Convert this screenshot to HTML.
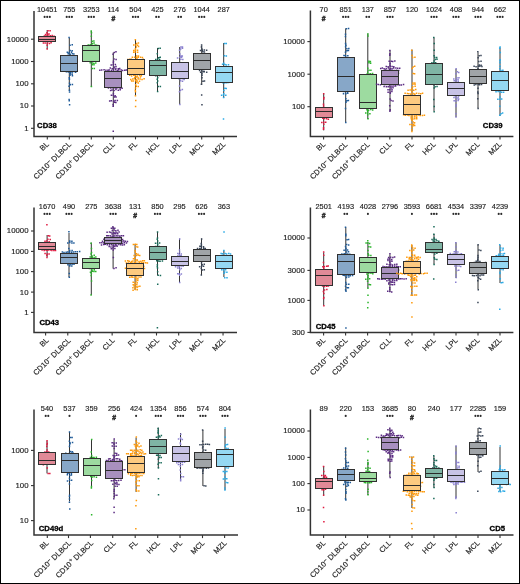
<!DOCTYPE html>
<html><head><meta charset="utf-8"><style>
html,body{margin:0;padding:0;background:#fff;}
svg{display:block;will-change:transform;}
.t{font-family:"Liberation Sans", sans-serif;font-size:7.8px;fill:#222;stroke:#222;stroke-width:0.15px;}
.x{font-family:"Liberation Sans", sans-serif;font-size:7.6px;fill:#222;stroke:#222;stroke-width:0.15px;}
.n{font-family:"Liberation Sans", sans-serif;font-size:7.4px;fill:#222;stroke:#222;stroke-width:0.15px;}
.s{font-family:"Liberation Sans", sans-serif;font-size:6px;fill:#222;letter-spacing:-0.3px;}
.h{font-family:"Liberation Sans", sans-serif;font-size:6.8px;font-weight:bold;fill:#333;}
.l{font-family:"Liberation Sans", sans-serif;font-size:7.7px;font-weight:bold;fill:#000;stroke:#000;stroke-width:0.3px;}
</style></head><body>
<svg width="520" height="584" viewBox="0 0 520 584">
<rect x="0" y="0" width="520" height="584" fill="#fff"/>
<line x1="47.2" y1="30" x2="47.2" y2="49" stroke="#333" stroke-width="1"/>
<path fill="#e01a40" d="M47.29 30.03h1.5v1.5h-1.5zM49.36 29.92h1.5v1.5h-1.5zM46.42 48.16h1.5v1.5h-1.5zM47.67 40.63h1.5v1.5h-1.5zM49.4 40.25h1.5v1.5h-1.5zM46.57 42.58h1.5v1.5h-1.5zM48.65 42.74h1.5v1.5h-1.5zM44.42 42.35h1.5v1.5h-1.5zM50.35 42.02h1.5v1.5h-1.5zM42.63 42.15h1.5v1.5h-1.5zM47.17 34.85h1.5v1.5h-1.5zM49.46 34.92h1.5v1.5h-1.5zM45.35 35.15h1.5v1.5h-1.5zM51.42 34.87h1.5v1.5h-1.5zM43.57 35.29h1.5v1.5h-1.5zM53.33 35.54h1.5v1.5h-1.5zM46.67 33.25h1.5v1.5h-1.5zM48.3 33.32h1.5v1.5h-1.5zM44.78 33.86h1.5v1.5h-1.5zM46.24 36.76h1.5v1.5h-1.5zM48.19 36.81h1.5v1.5h-1.5zM44.54 37.13h1.5v1.5h-1.5zM47.26 38.4h1.5v1.5h-1.5zM49.25 38.73h1.5v1.5h-1.5zM45.54 39.26h1.5v1.5h-1.5zM51.31 38.86h1.5v1.5h-1.5zM46.52 44.41h1.5v1.5h-1.5zM46.18 32.01h1.5v1.5h-1.5z"/>
<rect x="38.5" y="36.5" width="17" height="5" fill="#e18a97" stroke="#303030" stroke-width="1"/>
<line x1="38.5" y1="39.5" x2="55.5" y2="39.5" stroke="#2a2a2a" stroke-width="1"/>
<line x1="69.3" y1="38" x2="69.3" y2="91" stroke="#333" stroke-width="1"/>
<path fill="#1f5b99" d="M68.33 36.74h1.5v1.5h-1.5zM68.79 91.33h1.5v1.5h-1.5zM68.34 51.74h1.5v1.5h-1.5zM70.74 51.59h1.5v1.5h-1.5zM66.56 51.49h1.5v1.5h-1.5zM69.28 74.41h1.5v1.5h-1.5zM71.68 74.98h1.5v1.5h-1.5zM68.57 77.04h1.5v1.5h-1.5zM69.46 53.58h1.5v1.5h-1.5zM71.6 52.99h1.5v1.5h-1.5zM67.45 53.06h1.5v1.5h-1.5zM73.14 53.33h1.5v1.5h-1.5zM68.41 67.58h1.5v1.5h-1.5zM70.23 68.02h1.5v1.5h-1.5zM66.56 67.61h1.5v1.5h-1.5zM69.55 71.61h1.5v1.5h-1.5zM71.35 71.63h1.5v1.5h-1.5zM67.6 71.28h1.5v1.5h-1.5zM73.31 70.82h1.5v1.5h-1.5zM65.66 70.96h1.5v1.5h-1.5zM74.9 71.52h1.5v1.5h-1.5zM68.35 69.43h1.5v1.5h-1.5zM68.69 78.5h1.5v1.5h-1.5zM69.4 49.67h1.5v1.5h-1.5zM71.43 49.91h1.5v1.5h-1.5zM68.31 60.5h1.5v1.5h-1.5zM70.3 60.25h1.5v1.5h-1.5zM66.81 60.46h1.5v1.5h-1.5zM69.54 84.08h1.5v1.5h-1.5zM71.65 83.8h1.5v1.5h-1.5zM69.57 62.25h1.5v1.5h-1.5zM71.41 62.42h1.5v1.5h-1.5zM69.47 73.08h1.5v1.5h-1.5zM71.39 73.45h1.5v1.5h-1.5zM68.67 58.99h1.5v1.5h-1.5zM68.82 56.63h1.5v1.5h-1.5zM68.59 64.45h1.5v1.5h-1.5zM70.65 63.72h1.5v1.5h-1.5zM66.42 64h1.5v1.5h-1.5zM68.29 85.42h1.5v1.5h-1.5zM68.29 66h1.5v1.5h-1.5zM68.72 89.61h1.5v1.5h-1.5zM69.29 44.44h1.5v1.5h-1.5zM71.5 43.93h1.5v1.5h-1.5zM68.78 82.47h1.5v1.5h-1.5zM68.38 98.66h1.5v1.5h-1.5zM68.49 100.04h1.5v1.5h-1.5zM68.84 103.95h1.5v1.5h-1.5z"/>
<rect x="60.5" y="55.5" width="17" height="16" fill="#87a7c8" stroke="#303030" stroke-width="1"/>
<line x1="60.5" y1="63.5" x2="77.5" y2="63.5" stroke="#2a2a2a" stroke-width="1"/>
<line x1="91.3" y1="31" x2="91.3" y2="87" stroke="#333" stroke-width="1"/>
<path fill="#2bb52b" d="M90.46 30.15h1.5v1.5h-1.5zM90.67 85.77h1.5v1.5h-1.5zM91.44 40.51h1.5v1.5h-1.5zM93.13 40.32h1.5v1.5h-1.5zM91.24 58.87h1.5v1.5h-1.5zM93.25 58.35h1.5v1.5h-1.5zM91.25 44.56h1.5v1.5h-1.5zM93.62 44.4h1.5v1.5h-1.5zM89.47 44.02h1.5v1.5h-1.5zM95.18 44.21h1.5v1.5h-1.5zM87.49 44.2h1.5v1.5h-1.5zM97.06 44.67h1.5v1.5h-1.5zM91.78 62.29h1.5v1.5h-1.5zM93.25 62.67h1.5v1.5h-1.5zM89.49 62.12h1.5v1.5h-1.5zM95 62.14h1.5v1.5h-1.5zM91.48 64.05h1.5v1.5h-1.5zM93.22 64.05h1.5v1.5h-1.5zM91.2 51.24h1.5v1.5h-1.5zM93.15 51.36h1.5v1.5h-1.5zM89.33 51.02h1.5v1.5h-1.5zM95.18 51.21h1.5v1.5h-1.5zM91.55 67.68h1.5v1.5h-1.5zM93.55 67.79h1.5v1.5h-1.5zM91.63 42.79h1.5v1.5h-1.5zM93.33 42.29h1.5v1.5h-1.5zM91.79 60.13h1.5v1.5h-1.5zM93.53 60.58h1.5v1.5h-1.5zM90.28 46.35h1.5v1.5h-1.5zM90.79 53.36h1.5v1.5h-1.5zM91.64 49.93h1.5v1.5h-1.5zM93.18 49.67h1.5v1.5h-1.5zM90.55 57.15h1.5v1.5h-1.5zM90.73 31.94h1.5v1.5h-1.5zM90.6 35.6h1.5v1.5h-1.5z"/>
<rect x="82.5" y="45.5" width="17" height="16" fill="#9ddba0" stroke="#303030" stroke-width="1"/>
<line x1="82.5" y1="50.5" x2="99.5" y2="50.5" stroke="#2a2a2a" stroke-width="1"/>
<line x1="113.3" y1="52.4" x2="113.3" y2="107" stroke="#333" stroke-width="1"/>
<path fill="#5b2c83" d="M113.6 51.83h1.5v1.5h-1.5zM115.24 51.03h1.5v1.5h-1.5zM112.45 105.38h1.5v1.5h-1.5zM113.61 78.18h1.5v1.5h-1.5zM115.58 78.67h1.5v1.5h-1.5zM111.6 78.18h1.5v1.5h-1.5zM117.58 78.28h1.5v1.5h-1.5zM112.74 71.01h1.5v1.5h-1.5zM114.28 71.48h1.5v1.5h-1.5zM110.53 71.66h1.5v1.5h-1.5zM116.35 70.97h1.5v1.5h-1.5zM108.58 71.18h1.5v1.5h-1.5zM118.35 71.65h1.5v1.5h-1.5zM106.64 71.15h1.5v1.5h-1.5zM113.33 89.68h1.5v1.5h-1.5zM115.19 88.85h1.5v1.5h-1.5zM111.34 89.15h1.5v1.5h-1.5zM117.54 89.6h1.5v1.5h-1.5zM109.84 89.7h1.5v1.5h-1.5zM119.46 89.1h1.5v1.5h-1.5zM112.36 73.44h1.5v1.5h-1.5zM114.6 72.63h1.5v1.5h-1.5zM110.75 72.94h1.5v1.5h-1.5zM116.27 72.9h1.5v1.5h-1.5zM108.55 72.6h1.5v1.5h-1.5zM113.37 76.52h1.5v1.5h-1.5zM115.67 76.31h1.5v1.5h-1.5zM111.88 76.39h1.5v1.5h-1.5zM117.21 76.94h1.5v1.5h-1.5zM109.89 76.59h1.5v1.5h-1.5zM118.93 76.63h1.5v1.5h-1.5zM113.42 66.23h1.5v1.5h-1.5zM115.22 65.73h1.5v1.5h-1.5zM113.74 87.03h1.5v1.5h-1.5zM115.35 87.73h1.5v1.5h-1.5zM111.76 87.04h1.5v1.5h-1.5zM117.02 87.06h1.5v1.5h-1.5zM109.95 87.23h1.5v1.5h-1.5zM119.35 87.81h1.5v1.5h-1.5zM107.7 87.25h1.5v1.5h-1.5zM121.37 87.56h1.5v1.5h-1.5zM113.36 82.24h1.5v1.5h-1.5zM115.29 81.85h1.5v1.5h-1.5zM111.3 82.28h1.5v1.5h-1.5zM117.55 82.17h1.5v1.5h-1.5zM113.77 83.42h1.5v1.5h-1.5zM115.24 83.83h1.5v1.5h-1.5zM112.82 100.46h1.5v1.5h-1.5zM114.38 99.83h1.5v1.5h-1.5zM110.61 100.04h1.5v1.5h-1.5zM116.61 99.76h1.5v1.5h-1.5zM108.93 100.26h1.5v1.5h-1.5zM113.69 80.5h1.5v1.5h-1.5zM115.46 80.1h1.5v1.5h-1.5zM112.44 63.93h1.5v1.5h-1.5zM114.62 63.67h1.5v1.5h-1.5zM110.47 64.28h1.5v1.5h-1.5zM113.35 67.26h1.5v1.5h-1.5zM115.12 67.7h1.5v1.5h-1.5zM111.5 68.08h1.5v1.5h-1.5zM117.53 68.09h1.5v1.5h-1.5zM109.56 67.28h1.5v1.5h-1.5zM118.96 67.65h1.5v1.5h-1.5zM112.68 92.8h1.5v1.5h-1.5zM112.39 74.78h1.5v1.5h-1.5zM114.52 75.01h1.5v1.5h-1.5zM110.8 75.16h1.5v1.5h-1.5zM116.45 74.51h1.5v1.5h-1.5zM108.95 74.66h1.5v1.5h-1.5zM112.59 85.54h1.5v1.5h-1.5zM114.59 85.38h1.5v1.5h-1.5zM110.5 85.42h1.5v1.5h-1.5zM112.34 53.6h1.5v1.5h-1.5zM112.6 94.49h1.5v1.5h-1.5zM114.39 95.09h1.5v1.5h-1.5zM110.65 94.41h1.5v1.5h-1.5zM112.74 69.59h1.5v1.5h-1.5zM114.74 69.09h1.5v1.5h-1.5zM110.63 69.74h1.5v1.5h-1.5zM116.55 69.82h1.5v1.5h-1.5zM108.47 69.26h1.5v1.5h-1.5zM118.02 69.17h1.5v1.5h-1.5zM107.13 69.52h1.5v1.5h-1.5zM120.41 69.34h1.5v1.5h-1.5zM105.17 69.4h1.5v1.5h-1.5zM121.91 69.7h1.5v1.5h-1.5zM103.32 69.1h1.5v1.5h-1.5zM124.01 69.56h1.5v1.5h-1.5zM100.98 69.33h1.5v1.5h-1.5zM125.63 69.18h1.5v1.5h-1.5zM99.1 69.54h1.5v1.5h-1.5zM113.59 101.58h1.5v1.5h-1.5zM115.11 101.69h1.5v1.5h-1.5zM113.61 96.17h1.5v1.5h-1.5zM115.29 96.18h1.5v1.5h-1.5zM112.73 60.49h1.5v1.5h-1.5zM113.24 58.29h1.5v1.5h-1.5zM115.34 58.7h1.5v1.5h-1.5zM112.63 61.88h1.5v1.5h-1.5zM112.35 103.83h1.5v1.5h-1.5zM112.5 130.45h1.5v1.5h-1.5z"/>
<rect x="104.5" y="71.5" width="17" height="16" fill="#a890bf" stroke="#303030" stroke-width="1"/>
<line x1="104.5" y1="78.5" x2="121.5" y2="78.5" stroke="#2a2a2a" stroke-width="1"/>
<line x1="135.5" y1="40" x2="135.5" y2="96" stroke="#333" stroke-width="1"/>
<path fill="#ff9a0a" d="M134.61 38.9h1.5v1.5h-1.5zM134.71 94.91h1.5v1.5h-1.5zM134.76 71.04h1.5v1.5h-1.5zM136.74 71.67h1.5v1.5h-1.5zM132.68 71.59h1.5v1.5h-1.5zM138.26 71.03h1.5v1.5h-1.5zM130.79 71.47h1.5v1.5h-1.5zM140.72 71.47h1.5v1.5h-1.5zM128.95 71.59h1.5v1.5h-1.5zM134.65 51.22h1.5v1.5h-1.5zM136.89 51.57h1.5v1.5h-1.5zM132.97 51.6h1.5v1.5h-1.5zM135.04 44.22h1.5v1.5h-1.5zM136.85 44.43h1.5v1.5h-1.5zM133.06 44.19h1.5v1.5h-1.5zM135.83 56.91h1.5v1.5h-1.5zM137.48 56.59h1.5v1.5h-1.5zM133.87 56.47h1.5v1.5h-1.5zM139.75 56.53h1.5v1.5h-1.5zM131.62 56.5h1.5v1.5h-1.5zM141.66 56.71h1.5v1.5h-1.5zM135.49 76.23h1.5v1.5h-1.5zM137.32 76.82h1.5v1.5h-1.5zM133.88 76.83h1.5v1.5h-1.5zM139.64 76.26h1.5v1.5h-1.5zM134.8 87.33h1.5v1.5h-1.5zM134.94 67.94h1.5v1.5h-1.5zM136.88 67.26h1.5v1.5h-1.5zM133.07 68.02h1.5v1.5h-1.5zM138.82 67.3h1.5v1.5h-1.5zM130.77 67.3h1.5v1.5h-1.5zM140.17 67.96h1.5v1.5h-1.5zM129.24 67.77h1.5v1.5h-1.5zM142.55 67.77h1.5v1.5h-1.5zM127.02 67.29h1.5v1.5h-1.5zM135.46 78.68h1.5v1.5h-1.5zM137.42 78.29h1.5v1.5h-1.5zM133.75 78.02h1.5v1.5h-1.5zM139.35 78.25h1.5v1.5h-1.5zM132.03 78.33h1.5v1.5h-1.5zM141.29 78.87h1.5v1.5h-1.5zM130 78.77h1.5v1.5h-1.5zM143.37 78.03h1.5v1.5h-1.5zM134.7 49.59h1.5v1.5h-1.5zM136.81 49.51h1.5v1.5h-1.5zM132.97 49.68h1.5v1.5h-1.5zM135.53 60.78h1.5v1.5h-1.5zM137.35 60.74h1.5v1.5h-1.5zM133.6 60h1.5v1.5h-1.5zM139.32 60.69h1.5v1.5h-1.5zM135.04 63.6h1.5v1.5h-1.5zM134.74 73.04h1.5v1.5h-1.5zM136.83 72.77h1.5v1.5h-1.5zM132.85 72.91h1.5v1.5h-1.5zM138.75 72.83h1.5v1.5h-1.5zM131.22 72.86h1.5v1.5h-1.5zM140.28 73.23h1.5v1.5h-1.5zM129.05 72.7h1.5v1.5h-1.5zM142.43 72.67h1.5v1.5h-1.5zM127.32 73.23h1.5v1.5h-1.5zM134.92 58.77h1.5v1.5h-1.5zM136.56 58.56h1.5v1.5h-1.5zM132.79 59h1.5v1.5h-1.5zM138.3 59h1.5v1.5h-1.5zM130.67 58.39h1.5v1.5h-1.5zM140.31 59.01h1.5v1.5h-1.5zM129.05 58.54h1.5v1.5h-1.5zM142.58 58.41h1.5v1.5h-1.5zM127.13 58.68h1.5v1.5h-1.5zM135.85 42.68h1.5v1.5h-1.5zM137.69 42.31h1.5v1.5h-1.5zM134.65 69.14h1.5v1.5h-1.5zM136.86 69.6h1.5v1.5h-1.5zM133 69.15h1.5v1.5h-1.5zM138.51 69.7h1.5v1.5h-1.5zM131 69.11h1.5v1.5h-1.5zM140.43 69.8h1.5v1.5h-1.5zM128.89 69.17h1.5v1.5h-1.5zM135.58 46.23h1.5v1.5h-1.5zM137.81 45.74h1.5v1.5h-1.5zM135.49 85.42h1.5v1.5h-1.5zM137.5 85.67h1.5v1.5h-1.5zM134.55 74.7h1.5v1.5h-1.5zM136.46 75.28h1.5v1.5h-1.5zM132.99 74.49h1.5v1.5h-1.5zM138.83 74.49h1.5v1.5h-1.5zM130.88 75.29h1.5v1.5h-1.5zM140.63 75.06h1.5v1.5h-1.5zM129.01 74.58h1.5v1.5h-1.5zM134.83 79.9h1.5v1.5h-1.5zM136.47 80.15h1.5v1.5h-1.5zM132.57 80.16h1.5v1.5h-1.5zM138.72 80.42h1.5v1.5h-1.5zM130.95 80.37h1.5v1.5h-1.5zM134.73 65.53h1.5v1.5h-1.5zM136.71 65.76h1.5v1.5h-1.5zM132.99 66.22h1.5v1.5h-1.5zM138.51 65.92h1.5v1.5h-1.5zM131.1 65.78h1.5v1.5h-1.5zM134.59 89.45h1.5v1.5h-1.5zM135.93 55.3h1.5v1.5h-1.5zM137.72 55.37h1.5v1.5h-1.5zM134.86 83.98h1.5v1.5h-1.5zM134.72 90.88h1.5v1.5h-1.5zM135.78 81.69h1.5v1.5h-1.5zM137.55 82.3h1.5v1.5h-1.5zM134.88 62.37h1.5v1.5h-1.5zM136.5 62.18h1.5v1.5h-1.5zM132.82 62.36h1.5v1.5h-1.5zM134.7 48.01h1.5v1.5h-1.5zM135.01 99.76h1.5v1.5h-1.5zM134.84 105.7h1.5v1.5h-1.5z"/>
<rect x="127.5" y="59.5" width="17" height="15" fill="#fdca80" stroke="#303030" stroke-width="1"/>
<line x1="127.5" y1="68.5" x2="144.5" y2="68.5" stroke="#2a2a2a" stroke-width="1"/>
<line x1="157.5" y1="48" x2="157.5" y2="91.6" stroke="#333" stroke-width="1"/>
<path fill="#1a6b5a" d="M157.55 47.78h1.5v1.5h-1.5zM159.41 47.4h1.5v1.5h-1.5zM156.88 90.85h1.5v1.5h-1.5zM156.6 74.67h1.5v1.5h-1.5zM158.64 74.79h1.5v1.5h-1.5zM154.93 74.99h1.5v1.5h-1.5zM157.62 71.64h1.5v1.5h-1.5zM159.81 70.85h1.5v1.5h-1.5zM156.95 77.02h1.5v1.5h-1.5zM157.87 61.93h1.5v1.5h-1.5zM159.8 62.37h1.5v1.5h-1.5zM156.46 72.61h1.5v1.5h-1.5zM157.97 56.99h1.5v1.5h-1.5zM159.45 56.49h1.5v1.5h-1.5zM156.54 53.01h1.5v1.5h-1.5zM157.87 63.91h1.5v1.5h-1.5zM159.39 64.41h1.5v1.5h-1.5zM156.93 58.35h1.5v1.5h-1.5zM158.88 58.75h1.5v1.5h-1.5zM155.02 58.8h1.5v1.5h-1.5zM157.94 60.71h1.5v1.5h-1.5zM159.8 60.18h1.5v1.5h-1.5zM155.92 60.48h1.5v1.5h-1.5zM161.65 60.39h1.5v1.5h-1.5zM156.98 80.3h1.5v1.5h-1.5zM156.61 65.61h1.5v1.5h-1.5zM156.53 82.04h1.5v1.5h-1.5zM156.49 78.42h1.5v1.5h-1.5zM157.49 85.64h1.5v1.5h-1.5zM159.6 85.69h1.5v1.5h-1.5z"/>
<rect x="149.5" y="60.5" width="17" height="15" fill="#7fb5a5" stroke="#303030" stroke-width="1"/>
<line x1="149.5" y1="65.5" x2="166.5" y2="65.5" stroke="#2a2a2a" stroke-width="1"/>
<line x1="179.7" y1="47" x2="179.7" y2="104" stroke="#333" stroke-width="1"/>
<path fill="#8a80d0" d="M180.15 46.19h1.5v1.5h-1.5zM181.72 46.34h1.5v1.5h-1.5zM179.12 103.71h1.5v1.5h-1.5zM178.8 49.47h1.5v1.5h-1.5zM179.85 80.09h1.5v1.5h-1.5zM181.76 80.38h1.5v1.5h-1.5zM179.21 56.45h1.5v1.5h-1.5zM180.89 56.44h1.5v1.5h-1.5zM176.82 57.13h1.5v1.5h-1.5zM179.95 48.23h1.5v1.5h-1.5zM181.77 47.41h1.5v1.5h-1.5zM179.83 74.93h1.5v1.5h-1.5zM182.06 75.28h1.5v1.5h-1.5zM179.89 69.37h1.5v1.5h-1.5zM181.56 69.58h1.5v1.5h-1.5zM178.78 85.34h1.5v1.5h-1.5zM178.66 72.6h1.5v1.5h-1.5zM180.01 78.11h1.5v1.5h-1.5zM182.08 78.08h1.5v1.5h-1.5zM178.22 78.12h1.5v1.5h-1.5zM183.41 78.65h1.5v1.5h-1.5zM179.75 89.46h1.5v1.5h-1.5zM181.61 88.85h1.5v1.5h-1.5zM179.11 67.84h1.5v1.5h-1.5zM180.11 55.26h1.5v1.5h-1.5zM181.55 55.17h1.5v1.5h-1.5zM179.08 76.61h1.5v1.5h-1.5zM180.16 58.43h1.5v1.5h-1.5zM182.08 58.85h1.5v1.5h-1.5zM179.61 63.61h1.5v1.5h-1.5zM181.89 64.34h1.5v1.5h-1.5zM178.7 90.88h1.5v1.5h-1.5zM179.09 70.95h1.5v1.5h-1.5zM179.17 53.24h1.5v1.5h-1.5zM178.69 62.13h1.5v1.5h-1.5z"/>
<rect x="171.5" y="62.5" width="17" height="16" fill="#c8c3e6" stroke="#303030" stroke-width="1"/>
<line x1="171.5" y1="71.5" x2="188.5" y2="71.5" stroke="#2a2a2a" stroke-width="1"/>
<line x1="201.7" y1="45.6" x2="201.7" y2="85" stroke="#333" stroke-width="1"/>
<path fill="#3a4658" d="M200.86 44.27h1.5v1.5h-1.5zM200.66 83.43h1.5v1.5h-1.5zM202.19 66.18h1.5v1.5h-1.5zM203.79 65.91h1.5v1.5h-1.5zM201.76 57.1h1.5v1.5h-1.5zM203.76 57.25h1.5v1.5h-1.5zM202.06 55.34h1.5v1.5h-1.5zM204.08 54.83h1.5v1.5h-1.5zM201.62 49.38h1.5v1.5h-1.5zM203.61 49.28h1.5v1.5h-1.5zM199.73 49.7h1.5v1.5h-1.5zM205.92 49.61h1.5v1.5h-1.5zM201.22 48.22h1.5v1.5h-1.5zM200.69 67.74h1.5v1.5h-1.5zM202.79 67.31h1.5v1.5h-1.5zM199.33 67.43h1.5v1.5h-1.5zM200.99 58.78h1.5v1.5h-1.5zM202.17 80.4h1.5v1.5h-1.5zM203.74 80.2h1.5v1.5h-1.5zM200.75 64.47h1.5v1.5h-1.5zM202.2 71h1.5v1.5h-1.5zM203.52 71.03h1.5v1.5h-1.5zM199.91 71.61h1.5v1.5h-1.5zM205.94 71.55h1.5v1.5h-1.5zM200.68 46.31h1.5v1.5h-1.5zM201.08 69.58h1.5v1.5h-1.5zM203.14 69.05h1.5v1.5h-1.5zM198.84 69.68h1.5v1.5h-1.5zM202.16 60.61h1.5v1.5h-1.5zM203.68 60.53h1.5v1.5h-1.5zM202.05 51.09h1.5v1.5h-1.5zM203.69 51.23h1.5v1.5h-1.5zM200.72 62.23h1.5v1.5h-1.5zM202.65 62.01h1.5v1.5h-1.5zM198.84 62.41h1.5v1.5h-1.5zM204.46 62.45h1.5v1.5h-1.5zM196.97 61.83h1.5v1.5h-1.5zM201.21 74.6h1.5v1.5h-1.5zM201.21 76.98h1.5v1.5h-1.5zM201.18 72.73h1.5v1.5h-1.5zM200.92 94.29h1.5v1.5h-1.5zM201.21 103.96h1.5v1.5h-1.5z"/>
<rect x="193.5" y="53.5" width="17" height="16" fill="#a0a4a8" stroke="#303030" stroke-width="1"/>
<line x1="193.5" y1="60.5" x2="210.5" y2="60.5" stroke="#2a2a2a" stroke-width="1"/>
<line x1="223.7" y1="43" x2="223.7" y2="98" stroke="#333" stroke-width="1"/>
<path fill="#2aaae6" d="M223.84 42.65h1.5v1.5h-1.5zM225.53 42.73h1.5v1.5h-1.5zM222.85 96.76h1.5v1.5h-1.5zM224.12 87.44h1.5v1.5h-1.5zM225.51 87.82h1.5v1.5h-1.5zM222.94 62.58h1.5v1.5h-1.5zM222.81 94.37h1.5v1.5h-1.5zM225.05 94.53h1.5v1.5h-1.5zM220.85 94.53h1.5v1.5h-1.5zM223.01 78h1.5v1.5h-1.5zM224.86 78.4h1.5v1.5h-1.5zM221.06 78.11h1.5v1.5h-1.5zM224.03 82.33h1.5v1.5h-1.5zM226.02 81.89h1.5v1.5h-1.5zM222.13 81.94h1.5v1.5h-1.5zM227.85 81.66h1.5v1.5h-1.5zM223.17 89.66h1.5v1.5h-1.5zM222.95 80.26h1.5v1.5h-1.5zM222.97 65.88h1.5v1.5h-1.5zM222.66 71.67h1.5v1.5h-1.5zM224.68 70.96h1.5v1.5h-1.5zM220.81 71.03h1.5v1.5h-1.5zM224.09 63.63h1.5v1.5h-1.5zM225.56 64.23h1.5v1.5h-1.5zM221.82 63.62h1.5v1.5h-1.5zM227.76 64.12h1.5v1.5h-1.5zM223.91 69.63h1.5v1.5h-1.5zM225.56 69.78h1.5v1.5h-1.5zM223.08 74.44h1.5v1.5h-1.5zM223.67 73.04h1.5v1.5h-1.5zM225.8 72.85h1.5v1.5h-1.5zM223.67 54.97h1.5v1.5h-1.5zM225.58 55.13h1.5v1.5h-1.5zM223.17 67.33h1.5v1.5h-1.5zM222.99 93.07h1.5v1.5h-1.5zM222.75 118.34h1.5v1.5h-1.5z"/>
<rect x="215.5" y="66.5" width="17" height="16" fill="#95d8f2" stroke="#303030" stroke-width="1"/>
<line x1="215.5" y1="72.5" x2="232.5" y2="72.5" stroke="#2a2a2a" stroke-width="1"/>
<path d="M34 11 V136.4 H237" fill="none" stroke="#333" stroke-width="1.5"/>
<line x1="31" y1="39.2" x2="34" y2="39.2" stroke="#333" stroke-width="1.1"/>
<text x="28.5" y="41.6" text-anchor="end" class="t">10000</text>
<line x1="31" y1="61.5" x2="34" y2="61.5" stroke="#333" stroke-width="1.1"/>
<text x="28.5" y="63.9" text-anchor="end" class="t">1000</text>
<line x1="31" y1="83.8" x2="34" y2="83.8" stroke="#333" stroke-width="1.1"/>
<text x="28.5" y="86.2" text-anchor="end" class="t">100</text>
<line x1="31" y1="106" x2="34" y2="106" stroke="#333" stroke-width="1.1"/>
<text x="28.5" y="108.4" text-anchor="end" class="t">10</text>
<line x1="31" y1="128.3" x2="34" y2="128.3" stroke="#333" stroke-width="1.1"/>
<text x="28.5" y="130.7" text-anchor="end" class="t">1</text>
<line x1="47.3" y1="136.4" x2="47.3" y2="139.4" stroke="#333" stroke-width="1.1"/>
<line x1="69.3" y1="136.4" x2="69.3" y2="139.4" stroke="#333" stroke-width="1.1"/>
<line x1="91.3" y1="136.4" x2="91.3" y2="139.4" stroke="#333" stroke-width="1.1"/>
<line x1="113.3" y1="136.4" x2="113.3" y2="139.4" stroke="#333" stroke-width="1.1"/>
<line x1="135.5" y1="136.4" x2="135.5" y2="139.4" stroke="#333" stroke-width="1.1"/>
<line x1="157.5" y1="136.4" x2="157.5" y2="139.4" stroke="#333" stroke-width="1.1"/>
<line x1="179.5" y1="136.4" x2="179.5" y2="139.4" stroke="#333" stroke-width="1.1"/>
<line x1="201.7" y1="136.4" x2="201.7" y2="139.4" stroke="#333" stroke-width="1.1"/>
<line x1="223.7" y1="136.4" x2="223.7" y2="139.4" stroke="#333" stroke-width="1.1"/>
<text transform="translate(49.4,144.7) rotate(-45)" text-anchor="end" class="x">BL</text>
<text transform="translate(71.5,144.7) rotate(-45)" text-anchor="end" class="x">CD10<tspan dx="0.3" dy="-2.7" font-size="5.6">–</tspan><tspan dy="2.9"> DLBCL</tspan></text>
<text transform="translate(93.5,144.7) rotate(-45)" text-anchor="end" class="x">CD10<tspan dx="0.3" dy="-2.7" font-size="5.6">+</tspan><tspan dy="2.9"> DLBCL</tspan></text>
<text transform="translate(115.5,144.7) rotate(-45)" text-anchor="end" class="x">CLL</text>
<text transform="translate(137.7,144.7) rotate(-45)" text-anchor="end" class="x">FL</text>
<text transform="translate(159.7,144.7) rotate(-45)" text-anchor="end" class="x">HCL</text>
<text transform="translate(181.9,144.7) rotate(-45)" text-anchor="end" class="x">LPL</text>
<text transform="translate(203.9,144.7) rotate(-45)" text-anchor="end" class="x">MCL</text>
<text transform="translate(225.9,144.7) rotate(-45)" text-anchor="end" class="x">MZL</text>
<text x="47.2" y="12.2" text-anchor="middle" class="n">10451</text>
<circle cx="44.6" cy="16.9" r="1.05" fill="#2a2a2a"/>
<circle cx="47.2" cy="16.9" r="1.05" fill="#2a2a2a"/>
<circle cx="49.8" cy="16.9" r="1.05" fill="#2a2a2a"/>
<text x="69.3" y="12.2" text-anchor="middle" class="n">755</text>
<circle cx="66.7" cy="16.9" r="1.05" fill="#2a2a2a"/>
<circle cx="69.3" cy="16.9" r="1.05" fill="#2a2a2a"/>
<circle cx="71.9" cy="16.9" r="1.05" fill="#2a2a2a"/>
<text x="91.3" y="12.2" text-anchor="middle" class="n">3253</text>
<circle cx="88.7" cy="16.9" r="1.05" fill="#2a2a2a"/>
<circle cx="91.3" cy="16.9" r="1.05" fill="#2a2a2a"/>
<circle cx="93.9" cy="16.9" r="1.05" fill="#2a2a2a"/>
<text x="113.3" y="12.2" text-anchor="middle" class="n">114</text>
<text x="113.3" y="20.7" text-anchor="middle" class="h" stroke="#333" stroke-width="0.5">#</text>
<text x="135.5" y="12.2" text-anchor="middle" class="n">504</text>
<circle cx="132.9" cy="16.9" r="1.05" fill="#2a2a2a"/>
<circle cx="135.5" cy="16.9" r="1.05" fill="#2a2a2a"/>
<circle cx="138.1" cy="16.9" r="1.05" fill="#2a2a2a"/>
<text x="157.5" y="12.2" text-anchor="middle" class="n">425</text>
<circle cx="156.2" cy="16.9" r="1.05" fill="#2a2a2a"/>
<circle cx="158.8" cy="16.9" r="1.05" fill="#2a2a2a"/>
<text x="179.7" y="12.2" text-anchor="middle" class="n">276</text>
<circle cx="178.4" cy="16.9" r="1.05" fill="#2a2a2a"/>
<circle cx="181" cy="16.9" r="1.05" fill="#2a2a2a"/>
<text x="201.7" y="12.2" text-anchor="middle" class="n">1044</text>
<circle cx="199.1" cy="16.9" r="1.05" fill="#2a2a2a"/>
<circle cx="201.7" cy="16.9" r="1.05" fill="#2a2a2a"/>
<circle cx="204.3" cy="16.9" r="1.05" fill="#2a2a2a"/>
<text x="223.7" y="12.2" text-anchor="middle" class="n">287</text>
<text x="37.1" y="127.8" text-anchor="start" class="l">CD38</text>
<line x1="323.7" y1="93.6" x2="323.7" y2="130.4" stroke="#333" stroke-width="1"/>
<path fill="#e01a40" d="M322.93 92.88h1.5v1.5h-1.5zM322.74 128.51h1.5v1.5h-1.5zM322.73 103.46h1.5v1.5h-1.5zM322.89 116.06h1.5v1.5h-1.5zM324.7 115.88h1.5v1.5h-1.5zM321.08 116.56h1.5v1.5h-1.5zM323.02 98.31h1.5v1.5h-1.5zM323.04 121.38h1.5v1.5h-1.5zM324.98 121.61h1.5v1.5h-1.5zM321.08 121.75h1.5v1.5h-1.5zM322.93 110.68h1.5v1.5h-1.5zM323.75 117.8h1.5v1.5h-1.5zM325.81 117.94h1.5v1.5h-1.5zM322.05 117.61h1.5v1.5h-1.5zM327.61 118.38h1.5v1.5h-1.5zM322.79 127.1h1.5v1.5h-1.5zM322.94 112.46h1.5v1.5h-1.5zM324.19 108.87h1.5v1.5h-1.5zM325.96 108.74h1.5v1.5h-1.5zM321.74 109.38h1.5v1.5h-1.5zM327.66 108.66h1.5v1.5h-1.5zM323.83 107.2h1.5v1.5h-1.5zM325.94 106.9h1.5v1.5h-1.5zM321.84 107.66h1.5v1.5h-1.5zM327.84 106.94h1.5v1.5h-1.5zM322.85 105.32h1.5v1.5h-1.5zM323.06 123.55h1.5v1.5h-1.5zM323.16 96.74h1.5v1.5h-1.5z"/>
<rect x="315.5" y="107.5" width="17" height="10" fill="#e18a97" stroke="#303030" stroke-width="1"/>
<line x1="315.5" y1="111.5" x2="332.5" y2="111.5" stroke="#2a2a2a" stroke-width="1"/>
<line x1="345.7" y1="28.4" x2="345.7" y2="122" stroke="#333" stroke-width="1"/>
<path fill="#1f5b99" d="M345.72 28.05h1.5v1.5h-1.5zM347.83 27.84h1.5v1.5h-1.5zM345.04 121.68h1.5v1.5h-1.5zM346.2 73.12h1.5v1.5h-1.5zM347.75 72.71h1.5v1.5h-1.5zM345.69 84.08h1.5v1.5h-1.5zM347.56 83.49h1.5v1.5h-1.5zM344.75 33.47h1.5v1.5h-1.5zM345.14 92.95h1.5v1.5h-1.5zM347.03 92.46h1.5v1.5h-1.5zM342.76 93.09h1.5v1.5h-1.5zM345.79 76.84h1.5v1.5h-1.5zM347.71 76.35h1.5v1.5h-1.5zM345.76 85.29h1.5v1.5h-1.5zM348.04 85.72h1.5v1.5h-1.5zM344.86 46h1.5v1.5h-1.5zM344.88 81.65h1.5v1.5h-1.5zM346.13 47.92h1.5v1.5h-1.5zM348.08 47.8h1.5v1.5h-1.5zM345.02 65.62h1.5v1.5h-1.5zM344.68 35.64h1.5v1.5h-1.5zM345.16 69.28h1.5v1.5h-1.5zM346.14 49.93h1.5v1.5h-1.5zM347.68 49.74h1.5v1.5h-1.5zM345.23 56.85h1.5v1.5h-1.5zM345.22 101.62h1.5v1.5h-1.5zM344.88 75.05h1.5v1.5h-1.5zM344.78 54.88h1.5v1.5h-1.5zM347.08 55.04h1.5v1.5h-1.5zM343.23 54.82h1.5v1.5h-1.5zM344.75 89.12h1.5v1.5h-1.5zM344.76 107.67h1.5v1.5h-1.5zM344.82 62.31h1.5v1.5h-1.5zM344.72 91.08h1.5v1.5h-1.5zM346.78 90.96h1.5v1.5h-1.5zM342.79 90.71h1.5v1.5h-1.5zM346.1 99.92h1.5v1.5h-1.5zM347.65 99.77h1.5v1.5h-1.5zM345.77 80.01h1.5v1.5h-1.5zM347.52 80.4h1.5v1.5h-1.5zM344.85 60.14h1.5v1.5h-1.5zM345.07 97.88h1.5v1.5h-1.5zM344.81 42.75h1.5v1.5h-1.5zM344.73 51.4h1.5v1.5h-1.5zM345.15 44.52h1.5v1.5h-1.5z"/>
<rect x="337.5" y="57.5" width="17" height="34" fill="#87a7c8" stroke="#303030" stroke-width="1"/>
<line x1="337.5" y1="76.5" x2="354.5" y2="76.5" stroke="#2a2a2a" stroke-width="1"/>
<line x1="367.8" y1="33.6" x2="367.8" y2="119" stroke="#333" stroke-width="1"/>
<path fill="#2bb52b" d="M367.13 33.16h1.5v1.5h-1.5zM367.25 118.11h1.5v1.5h-1.5zM368.13 62.03h1.5v1.5h-1.5zM369.86 62.42h1.5v1.5h-1.5zM366.96 112.2h1.5v1.5h-1.5zM369.15 112.9h1.5v1.5h-1.5zM365.02 112.24h1.5v1.5h-1.5zM367.26 35.35h1.5v1.5h-1.5zM367.73 101.62h1.5v1.5h-1.5zM369.67 102.11h1.5v1.5h-1.5zM367.83 109.42h1.5v1.5h-1.5zM370.05 108.68h1.5v1.5h-1.5zM366.22 108.95h1.5v1.5h-1.5zM371.95 109.35h1.5v1.5h-1.5zM366.92 110.48h1.5v1.5h-1.5zM368.27 69.38h1.5v1.5h-1.5zM370.16 69.62h1.5v1.5h-1.5zM367.19 78.75h1.5v1.5h-1.5zM368.08 60.41h1.5v1.5h-1.5zM369.63 60.63h1.5v1.5h-1.5zM367.96 83.86h1.5v1.5h-1.5zM370.16 83.51h1.5v1.5h-1.5zM367.21 85.24h1.5v1.5h-1.5zM368.12 73.33h1.5v1.5h-1.5zM369.76 73.09h1.5v1.5h-1.5zM366.38 73.17h1.5v1.5h-1.5zM371.83 72.82h1.5v1.5h-1.5zM366.79 74.72h1.5v1.5h-1.5zM367 67.38h1.5v1.5h-1.5zM366.94 114.12h1.5v1.5h-1.5zM367.17 107.4h1.5v1.5h-1.5zM366.89 90.82h1.5v1.5h-1.5zM367.06 71.2h1.5v1.5h-1.5zM367.31 98.12h1.5v1.5h-1.5zM366.93 87.8h1.5v1.5h-1.5z"/>
<rect x="359.5" y="74.5" width="17" height="34" fill="#9ddba0" stroke="#303030" stroke-width="1"/>
<line x1="359.5" y1="102.5" x2="376.5" y2="102.5" stroke="#2a2a2a" stroke-width="1"/>
<line x1="390" y1="50.4" x2="390" y2="111" stroke="#333" stroke-width="1"/>
<path fill="#5b2c83" d="M389.12 49.82h1.5v1.5h-1.5zM389.18 110.53h1.5v1.5h-1.5zM389.48 67.68h1.5v1.5h-1.5zM391.26 67.93h1.5v1.5h-1.5zM387.62 67.21h1.5v1.5h-1.5zM392.96 67.34h1.5v1.5h-1.5zM385.45 67.99h1.5v1.5h-1.5zM395.13 67.23h1.5v1.5h-1.5zM383.36 67.94h1.5v1.5h-1.5zM396.96 67.55h1.5v1.5h-1.5zM381.64 67.34h1.5v1.5h-1.5zM398.96 67.55h1.5v1.5h-1.5zM379.97 67.75h1.5v1.5h-1.5zM389.95 72.9h1.5v1.5h-1.5zM391.93 73.4h1.5v1.5h-1.5zM388.35 72.64h1.5v1.5h-1.5zM393.8 72.92h1.5v1.5h-1.5zM386.38 73.12h1.5v1.5h-1.5zM395.83 72.92h1.5v1.5h-1.5zM384.2 73.12h1.5v1.5h-1.5zM397.7 72.62h1.5v1.5h-1.5zM390.18 77.09h1.5v1.5h-1.5zM391.83 76.33h1.5v1.5h-1.5zM388.4 76.45h1.5v1.5h-1.5zM393.86 76.65h1.5v1.5h-1.5zM390.06 69.51h1.5v1.5h-1.5zM392.12 69.86h1.5v1.5h-1.5zM388.6 69.03h1.5v1.5h-1.5zM394.04 69.69h1.5v1.5h-1.5zM386.62 69.7h1.5v1.5h-1.5zM395.98 69.57h1.5v1.5h-1.5zM384.42 69.25h1.5v1.5h-1.5zM397.98 69.79h1.5v1.5h-1.5zM390.46 60.61h1.5v1.5h-1.5zM391.98 60.69h1.5v1.5h-1.5zM388.44 60.46h1.5v1.5h-1.5zM394.08 60.32h1.5v1.5h-1.5zM390.23 80.17h1.5v1.5h-1.5zM391.84 80.1h1.5v1.5h-1.5zM388.19 80.69h1.5v1.5h-1.5zM393.99 80.13h1.5v1.5h-1.5zM386.25 80.01h1.5v1.5h-1.5zM395.81 79.92h1.5v1.5h-1.5zM388.95 84.18h1.5v1.5h-1.5zM391.12 83.8h1.5v1.5h-1.5zM387.39 83.67h1.5v1.5h-1.5zM392.85 83.46h1.5v1.5h-1.5zM385.33 83.68h1.5v1.5h-1.5zM395.09 83.9h1.5v1.5h-1.5zM383.81 83.71h1.5v1.5h-1.5zM397.1 83.93h1.5v1.5h-1.5zM381.4 83.56h1.5v1.5h-1.5zM398.8 84.29h1.5v1.5h-1.5zM379.66 84.1h1.5v1.5h-1.5zM400.61 84.18h1.5v1.5h-1.5zM377.59 83.84h1.5v1.5h-1.5zM402.79 83.65h1.5v1.5h-1.5zM375.8 83.42h1.5v1.5h-1.5zM389.05 89.04h1.5v1.5h-1.5zM391.27 89h1.5v1.5h-1.5zM387.29 88.98h1.5v1.5h-1.5zM389.31 85.98h1.5v1.5h-1.5zM391.24 85.38h1.5v1.5h-1.5zM387.49 86.07h1.5v1.5h-1.5zM393.11 85.27h1.5v1.5h-1.5zM385.64 85.99h1.5v1.5h-1.5zM394.85 85.32h1.5v1.5h-1.5zM383.36 85.68h1.5v1.5h-1.5zM389.48 74.98h1.5v1.5h-1.5zM391.4 74.59h1.5v1.5h-1.5zM387.25 75.07h1.5v1.5h-1.5zM389.34 81.96h1.5v1.5h-1.5zM391.26 81.9h1.5v1.5h-1.5zM387.08 81.97h1.5v1.5h-1.5zM392.78 82.16h1.5v1.5h-1.5zM385.35 82.04h1.5v1.5h-1.5zM389.31 71.03h1.5v1.5h-1.5zM391.13 70.81h1.5v1.5h-1.5zM387.61 71.31h1.5v1.5h-1.5zM389.54 92.45h1.5v1.5h-1.5zM389.32 62.45h1.5v1.5h-1.5zM389.15 52.88h1.5v1.5h-1.5zM389.04 78.13h1.5v1.5h-1.5zM389.41 65.48h1.5v1.5h-1.5zM391.34 65.78h1.5v1.5h-1.5zM387.37 65.93h1.5v1.5h-1.5zM393.08 65.99h1.5v1.5h-1.5zM385.51 65.7h1.5v1.5h-1.5zM390.34 99.83h1.5v1.5h-1.5zM392.23 100.29h1.5v1.5h-1.5zM389.42 108.88h1.5v1.5h-1.5zM389.41 91.48h1.5v1.5h-1.5zM391.12 90.85h1.5v1.5h-1.5zM387.36 91.45h1.5v1.5h-1.5zM389.03 54.61h1.5v1.5h-1.5zM389.24 64.19h1.5v1.5h-1.5zM389.41 98.13h1.5v1.5h-1.5zM390.49 87.21h1.5v1.5h-1.5zM392.25 87.08h1.5v1.5h-1.5zM388.97 105.12h1.5v1.5h-1.5z"/>
<rect x="381.5" y="70.5" width="17" height="14" fill="#a890bf" stroke="#303030" stroke-width="1"/>
<line x1="381.5" y1="76.5" x2="398.5" y2="76.5" stroke="#2a2a2a" stroke-width="1"/>
<line x1="412" y1="49.6" x2="412" y2="131" stroke="#333" stroke-width="1"/>
<path fill="#ff9a0a" d="M410.98 49.6h1.5v1.5h-1.5zM411.17 130.84h1.5v1.5h-1.5zM412.08 114.37h1.5v1.5h-1.5zM414.19 114.73h1.5v1.5h-1.5zM410.21 114.35h1.5v1.5h-1.5zM416.05 114.83h1.5v1.5h-1.5zM408.21 114.87h1.5v1.5h-1.5zM418.03 114.34h1.5v1.5h-1.5zM406.6 114.3h1.5v1.5h-1.5zM419.54 114.68h1.5v1.5h-1.5zM404.53 114.47h1.5v1.5h-1.5zM421.7 114.81h1.5v1.5h-1.5zM402.85 114.02h1.5v1.5h-1.5zM423.66 114.42h1.5v1.5h-1.5zM412.18 118.36h1.5v1.5h-1.5zM414.05 118.03h1.5v1.5h-1.5zM410.53 118h1.5v1.5h-1.5zM415.99 118.06h1.5v1.5h-1.5zM412.39 94.8h1.5v1.5h-1.5zM414.24 94.56h1.5v1.5h-1.5zM410.02 94.81h1.5v1.5h-1.5zM416.03 94.89h1.5v1.5h-1.5zM412.36 124.91h1.5v1.5h-1.5zM413.93 124.87h1.5v1.5h-1.5zM412.39 121.29h1.5v1.5h-1.5zM413.85 121.88h1.5v1.5h-1.5zM411.29 101.45h1.5v1.5h-1.5zM413.26 102.04h1.5v1.5h-1.5zM409.34 101.45h1.5v1.5h-1.5zM412.31 108.98h1.5v1.5h-1.5zM414.15 109.5h1.5v1.5h-1.5zM410.49 109.38h1.5v1.5h-1.5zM415.79 108.9h1.5v1.5h-1.5zM408.41 108.61h1.5v1.5h-1.5zM418.19 108.85h1.5v1.5h-1.5zM411.11 89.08h1.5v1.5h-1.5zM413 89.57h1.5v1.5h-1.5zM409.38 89.26h1.5v1.5h-1.5zM415 88.85h1.5v1.5h-1.5zM407.33 89.58h1.5v1.5h-1.5zM412.38 66.17h1.5v1.5h-1.5zM413.95 65.58h1.5v1.5h-1.5zM411.93 116.28h1.5v1.5h-1.5zM414.02 116.22h1.5v1.5h-1.5zM410.29 116.33h1.5v1.5h-1.5zM415.92 116.52h1.5v1.5h-1.5zM411.07 87.83h1.5v1.5h-1.5zM411.28 103.25h1.5v1.5h-1.5zM413.04 103.68h1.5v1.5h-1.5zM409.3 103.71h1.5v1.5h-1.5zM414.94 103.45h1.5v1.5h-1.5zM407.63 103.46h1.5v1.5h-1.5zM412.33 111.12h1.5v1.5h-1.5zM414.16 110.81h1.5v1.5h-1.5zM410.56 110.8h1.5v1.5h-1.5zM416.23 110.45h1.5v1.5h-1.5zM411.21 128.98h1.5v1.5h-1.5zM410.98 123.78h1.5v1.5h-1.5zM412.89 123.54h1.5v1.5h-1.5zM409.16 123.83h1.5v1.5h-1.5zM412.24 82.32h1.5v1.5h-1.5zM414.1 82.21h1.5v1.5h-1.5zM412.3 92.67h1.5v1.5h-1.5zM413.93 93.15h1.5v1.5h-1.5zM410.09 93.23h1.5v1.5h-1.5zM415.82 92.49h1.5v1.5h-1.5zM408.16 93.11h1.5v1.5h-1.5zM418.17 92.77h1.5v1.5h-1.5zM406.6 92.63h1.5v1.5h-1.5zM420.04 93.02h1.5v1.5h-1.5zM404.39 92.45h1.5v1.5h-1.5zM421.82 92.44h1.5v1.5h-1.5zM411.45 98.06h1.5v1.5h-1.5zM412.99 98.32h1.5v1.5h-1.5zM409.24 98.3h1.5v1.5h-1.5zM414.84 98.62h1.5v1.5h-1.5zM407.34 98.56h1.5v1.5h-1.5zM411.99 85.92h1.5v1.5h-1.5zM414.39 85.55h1.5v1.5h-1.5zM411.92 56.74h1.5v1.5h-1.5zM414.18 56.6h1.5v1.5h-1.5zM411.28 54.68h1.5v1.5h-1.5zM411.23 96.66h1.5v1.5h-1.5zM413.11 96.61h1.5v1.5h-1.5zM409.12 96.75h1.5v1.5h-1.5zM414.82 96.83h1.5v1.5h-1.5zM407.75 96.85h1.5v1.5h-1.5zM411.27 126.86h1.5v1.5h-1.5zM411.16 107.48h1.5v1.5h-1.5zM413.15 107.64h1.5v1.5h-1.5zM409.11 107.24h1.5v1.5h-1.5zM415.27 107.34h1.5v1.5h-1.5zM407.47 106.88h1.5v1.5h-1.5zM411.98 105.24h1.5v1.5h-1.5zM414.34 105.76h1.5v1.5h-1.5zM410.14 105.83h1.5v1.5h-1.5zM415.72 105.54h1.5v1.5h-1.5zM411.53 99.91h1.5v1.5h-1.5zM413.42 100.19h1.5v1.5h-1.5zM409.08 99.9h1.5v1.5h-1.5zM412.17 83.62h1.5v1.5h-1.5zM414.25 83.56h1.5v1.5h-1.5zM412.37 72.87h1.5v1.5h-1.5zM413.84 73.1h1.5v1.5h-1.5zM411.01 91.1h1.5v1.5h-1.5zM411.42 67.74h1.5v1.5h-1.5zM411.23 119.43h1.5v1.5h-1.5zM411.26 112.29h1.5v1.5h-1.5zM413.24 112.32h1.5v1.5h-1.5zM409.4 112.52h1.5v1.5h-1.5z"/>
<rect x="403.5" y="95.5" width="17" height="19" fill="#fdca80" stroke="#303030" stroke-width="1"/>
<line x1="403.5" y1="104.5" x2="420.5" y2="104.5" stroke="#2a2a2a" stroke-width="1"/>
<line x1="434" y1="37.6" x2="434" y2="111" stroke="#333" stroke-width="1"/>
<path fill="#1a6b5a" d="M433 36.82h1.5v1.5h-1.5zM433.39 111.01h1.5v1.5h-1.5zM433.04 62.11h1.5v1.5h-1.5zM434.93 61.98h1.5v1.5h-1.5zM431.18 62.1h1.5v1.5h-1.5zM433.54 78.9h1.5v1.5h-1.5zM435.32 78.43h1.5v1.5h-1.5zM431.35 78.7h1.5v1.5h-1.5zM433.49 42.68h1.5v1.5h-1.5zM433.33 60.18h1.5v1.5h-1.5zM433.33 84.16h1.5v1.5h-1.5zM433.42 70.88h1.5v1.5h-1.5zM433.38 54.91h1.5v1.5h-1.5zM434 69.87h1.5v1.5h-1.5zM436.2 69.67h1.5v1.5h-1.5zM433.03 64.35h1.5v1.5h-1.5zM433.51 105.81h1.5v1.5h-1.5zM434.35 85.95h1.5v1.5h-1.5zM436.28 85.73h1.5v1.5h-1.5zM434.16 75.14h1.5v1.5h-1.5zM436.27 75.18h1.5v1.5h-1.5zM434.08 77.06h1.5v1.5h-1.5zM436.12 77.05h1.5v1.5h-1.5zM433.02 98.67h1.5v1.5h-1.5zM433.42 87.23h1.5v1.5h-1.5zM433.45 49.41h1.5v1.5h-1.5zM434.02 56.81h1.5v1.5h-1.5zM435.94 56.84h1.5v1.5h-1.5zM434.44 58.82h1.5v1.5h-1.5zM436.23 58.55h1.5v1.5h-1.5z"/>
<rect x="425.5" y="63.5" width="17" height="21" fill="#7fb5a5" stroke="#303030" stroke-width="1"/>
<line x1="425.5" y1="74.5" x2="442.5" y2="74.5" stroke="#2a2a2a" stroke-width="1"/>
<line x1="456" y1="69" x2="456" y2="117" stroke="#333" stroke-width="1"/>
<path fill="#8a80d0" d="M455.36 68.02h1.5v1.5h-1.5zM455.25 116.13h1.5v1.5h-1.5zM455.54 87.05h1.5v1.5h-1.5zM457.35 87.62h1.5v1.5h-1.5zM453.38 87.4h1.5v1.5h-1.5zM455.4 78.8h1.5v1.5h-1.5zM457.29 78.67h1.5v1.5h-1.5zM453.07 78.29h1.5v1.5h-1.5zM455.03 100.46h1.5v1.5h-1.5zM457.38 99.73h1.5v1.5h-1.5zM453.4 100.12h1.5v1.5h-1.5zM454.98 96.35h1.5v1.5h-1.5zM457.3 96.58h1.5v1.5h-1.5zM453.22 96.69h1.5v1.5h-1.5zM455.12 73.09h1.5v1.5h-1.5zM456.15 77.08h1.5v1.5h-1.5zM458.19 76.92h1.5v1.5h-1.5zM455.36 80.14h1.5v1.5h-1.5zM457.43 80.44h1.5v1.5h-1.5zM453.46 80.05h1.5v1.5h-1.5zM455.05 82.12h1.5v1.5h-1.5zM455.45 103.91h1.5v1.5h-1.5zM456.11 94.33h1.5v1.5h-1.5zM458.11 94.99h1.5v1.5h-1.5zM454.1 94.86h1.5v1.5h-1.5zM459.8 94.48h1.5v1.5h-1.5zM454.98 92.67h1.5v1.5h-1.5zM455.18 113.07h1.5v1.5h-1.5zM456.48 70.97h1.5v1.5h-1.5zM457.99 71.65h1.5v1.5h-1.5zM455.07 83.69h1.5v1.5h-1.5zM456.16 97.9h1.5v1.5h-1.5zM457.96 98.15h1.5v1.5h-1.5zM455.18 105.87h1.5v1.5h-1.5zM455.11 85.38h1.5v1.5h-1.5z"/>
<rect x="447.5" y="82.5" width="17" height="13" fill="#c8c3e6" stroke="#303030" stroke-width="1"/>
<line x1="447.5" y1="88.5" x2="464.5" y2="88.5" stroke="#2a2a2a" stroke-width="1"/>
<line x1="478" y1="52.4" x2="478" y2="108" stroke="#333" stroke-width="1"/>
<path fill="#3a4658" d="M477.08 51.08h1.5v1.5h-1.5zM477.36 107.68h1.5v1.5h-1.5zM478.38 54.92h1.5v1.5h-1.5zM480.22 54.66h1.5v1.5h-1.5zM477.45 83.69h1.5v1.5h-1.5zM478.85 83.97h1.5v1.5h-1.5zM475.13 83.65h1.5v1.5h-1.5zM480.79 83.8h1.5v1.5h-1.5zM473.48 84.13h1.5v1.5h-1.5zM476.97 73.34h1.5v1.5h-1.5zM477.97 80h1.5v1.5h-1.5zM480.18 80.11h1.5v1.5h-1.5zM476.2 80.31h1.5v1.5h-1.5zM481.83 80.51h1.5v1.5h-1.5zM478.03 60.76h1.5v1.5h-1.5zM480.29 60.48h1.5v1.5h-1.5zM477.92 69.7h1.5v1.5h-1.5zM479.82 69.45h1.5v1.5h-1.5zM476.25 69.06h1.5v1.5h-1.5zM482.08 69.65h1.5v1.5h-1.5zM477.3 92.76h1.5v1.5h-1.5zM477.26 67.73h1.5v1.5h-1.5zM477.09 71.58h1.5v1.5h-1.5zM479.45 71.52h1.5v1.5h-1.5zM475.63 71.1h1.5v1.5h-1.5zM477.54 65.46h1.5v1.5h-1.5zM479.14 65.52h1.5v1.5h-1.5zM475.32 66.01h1.5v1.5h-1.5zM481.18 65.81h1.5v1.5h-1.5zM473.36 65.57h1.5v1.5h-1.5zM478.14 76.45h1.5v1.5h-1.5zM479.92 76.86h1.5v1.5h-1.5zM477.26 87.39h1.5v1.5h-1.5zM477.07 91.23h1.5v1.5h-1.5zM478.02 74.64h1.5v1.5h-1.5zM480.14 75.03h1.5v1.5h-1.5zM478.48 64.27h1.5v1.5h-1.5zM480.37 64.43h1.5v1.5h-1.5zM477.38 57.05h1.5v1.5h-1.5zM476.99 97.99h1.5v1.5h-1.5z"/>
<rect x="469.5" y="69.5" width="17" height="14" fill="#a0a4a8" stroke="#303030" stroke-width="1"/>
<line x1="469.5" y1="76.5" x2="486.5" y2="76.5" stroke="#2a2a2a" stroke-width="1"/>
<line x1="500" y1="47.6" x2="500" y2="116" stroke="#333" stroke-width="1"/>
<path fill="#2aaae6" d="M499.35 46.24h1.5v1.5h-1.5zM499.09 114.58h1.5v1.5h-1.5zM499.37 91.02h1.5v1.5h-1.5zM500.94 91.42h1.5v1.5h-1.5zM497.41 90.66h1.5v1.5h-1.5zM502.89 91.49h1.5v1.5h-1.5zM495.29 90.95h1.5v1.5h-1.5zM500.37 73.34h1.5v1.5h-1.5zM502.18 73.27h1.5v1.5h-1.5zM498.97 70.88h1.5v1.5h-1.5zM499.54 51.72h1.5v1.5h-1.5zM498.97 47.44h1.5v1.5h-1.5zM499.09 68.04h1.5v1.5h-1.5zM499.08 105.6h1.5v1.5h-1.5zM499.51 85.77h1.5v1.5h-1.5zM501.4 85.44h1.5v1.5h-1.5zM497.14 85.22h1.5v1.5h-1.5zM500.35 83.49h1.5v1.5h-1.5zM502.38 84.04h1.5v1.5h-1.5zM499.06 98.53h1.5v1.5h-1.5zM500.95 98.26h1.5v1.5h-1.5zM497.11 98.51h1.5v1.5h-1.5zM500.43 87.82h1.5v1.5h-1.5zM501.8 87.77h1.5v1.5h-1.5zM500.23 69.74h1.5v1.5h-1.5zM502.1 69.56h1.5v1.5h-1.5zM500.26 112.92h1.5v1.5h-1.5zM501.85 112.25h1.5v1.5h-1.5zM499.28 96.26h1.5v1.5h-1.5zM499.19 60.01h1.5v1.5h-1.5zM499.4 88.82h1.5v1.5h-1.5zM499.45 58.93h1.5v1.5h-1.5zM499.22 79.91h1.5v1.5h-1.5zM499.34 65.59h1.5v1.5h-1.5zM499.21 61.9h1.5v1.5h-1.5z"/>
<rect x="491.5" y="71.5" width="17" height="19" fill="#95d8f2" stroke="#303030" stroke-width="1"/>
<line x1="491.5" y1="80.5" x2="508.5" y2="80.5" stroke="#2a2a2a" stroke-width="1"/>
<path d="M310.4 10.5 V136.5 H513.4" fill="none" stroke="#333" stroke-width="1.5"/>
<line x1="307.4" y1="41.6" x2="310.4" y2="41.6" stroke="#333" stroke-width="1.1"/>
<text x="304.9" y="44" text-anchor="end" class="t">10000</text>
<line x1="307.4" y1="74.2" x2="310.4" y2="74.2" stroke="#333" stroke-width="1.1"/>
<text x="304.9" y="76.6" text-anchor="end" class="t">1000</text>
<line x1="307.4" y1="106.7" x2="310.4" y2="106.7" stroke="#333" stroke-width="1.1"/>
<text x="304.9" y="109.1" text-anchor="end" class="t">100</text>
<line x1="323.6" y1="136.5" x2="323.6" y2="139.5" stroke="#333" stroke-width="1.1"/>
<line x1="345.6" y1="136.5" x2="345.6" y2="139.5" stroke="#333" stroke-width="1.1"/>
<line x1="367.6" y1="136.5" x2="367.6" y2="139.5" stroke="#333" stroke-width="1.1"/>
<line x1="389.8" y1="136.5" x2="389.8" y2="139.5" stroke="#333" stroke-width="1.1"/>
<line x1="412" y1="136.5" x2="412" y2="139.5" stroke="#333" stroke-width="1.1"/>
<line x1="434" y1="136.5" x2="434" y2="139.5" stroke="#333" stroke-width="1.1"/>
<line x1="456" y1="136.5" x2="456" y2="139.5" stroke="#333" stroke-width="1.1"/>
<line x1="478" y1="136.5" x2="478" y2="139.5" stroke="#333" stroke-width="1.1"/>
<line x1="500" y1="136.5" x2="500" y2="139.5" stroke="#333" stroke-width="1.1"/>
<text transform="translate(325.9,144.8) rotate(-45)" text-anchor="end" class="x">BL</text>
<text transform="translate(347.9,144.8) rotate(-45)" text-anchor="end" class="x">CD10<tspan dx="0.3" dy="-2.7" font-size="5.6">–</tspan><tspan dy="2.9"> DLBCL</tspan></text>
<text transform="translate(370,144.8) rotate(-45)" text-anchor="end" class="x">CD10<tspan dx="0.3" dy="-2.7" font-size="5.6">+</tspan><tspan dy="2.9"> DLBCL</tspan></text>
<text transform="translate(392.2,144.8) rotate(-45)" text-anchor="end" class="x">CLL</text>
<text transform="translate(414.2,144.8) rotate(-45)" text-anchor="end" class="x">FL</text>
<text transform="translate(436.2,144.8) rotate(-45)" text-anchor="end" class="x">HCL</text>
<text transform="translate(458.2,144.8) rotate(-45)" text-anchor="end" class="x">LPL</text>
<text transform="translate(480.2,144.8) rotate(-45)" text-anchor="end" class="x">MCL</text>
<text transform="translate(502.2,144.8) rotate(-45)" text-anchor="end" class="x">MZL</text>
<text x="323.7" y="12.2" text-anchor="middle" class="n">70</text>
<text x="323.7" y="20.7" text-anchor="middle" class="h" stroke="#333" stroke-width="0.5">#</text>
<text x="345.7" y="12.2" text-anchor="middle" class="n">851</text>
<circle cx="343.1" cy="16.9" r="1.05" fill="#2a2a2a"/>
<circle cx="345.7" cy="16.9" r="1.05" fill="#2a2a2a"/>
<circle cx="348.3" cy="16.9" r="1.05" fill="#2a2a2a"/>
<text x="367.8" y="12.2" text-anchor="middle" class="n">137</text>
<circle cx="366.5" cy="16.9" r="1.05" fill="#2a2a2a"/>
<circle cx="369.1" cy="16.9" r="1.05" fill="#2a2a2a"/>
<text x="390" y="12.2" text-anchor="middle" class="n">857</text>
<circle cx="387.4" cy="16.9" r="1.05" fill="#2a2a2a"/>
<circle cx="390" cy="16.9" r="1.05" fill="#2a2a2a"/>
<circle cx="392.6" cy="16.9" r="1.05" fill="#2a2a2a"/>
<text x="412" y="12.2" text-anchor="middle" class="n">120</text>
<text x="434" y="12.2" text-anchor="middle" class="n">1024</text>
<circle cx="431.4" cy="16.9" r="1.05" fill="#2a2a2a"/>
<circle cx="434" cy="16.9" r="1.05" fill="#2a2a2a"/>
<circle cx="436.6" cy="16.9" r="1.05" fill="#2a2a2a"/>
<text x="456" y="12.2" text-anchor="middle" class="n">408</text>
<circle cx="453.4" cy="16.9" r="1.05" fill="#2a2a2a"/>
<circle cx="456" cy="16.9" r="1.05" fill="#2a2a2a"/>
<circle cx="458.6" cy="16.9" r="1.05" fill="#2a2a2a"/>
<text x="478" y="12.2" text-anchor="middle" class="n">944</text>
<circle cx="475.4" cy="16.9" r="1.05" fill="#2a2a2a"/>
<circle cx="478" cy="16.9" r="1.05" fill="#2a2a2a"/>
<circle cx="480.6" cy="16.9" r="1.05" fill="#2a2a2a"/>
<text x="500" y="12.2" text-anchor="middle" class="n">662</text>
<circle cx="497.4" cy="16.9" r="1.05" fill="#2a2a2a"/>
<circle cx="500" cy="16.9" r="1.05" fill="#2a2a2a"/>
<circle cx="502.6" cy="16.9" r="1.05" fill="#2a2a2a"/>
<text x="502.5" y="127.8" text-anchor="end" class="l">CD39</text>
<line x1="47.1" y1="235" x2="47.1" y2="257" stroke="#333" stroke-width="1"/>
<path fill="#e01a40" d="M47.48 235.08h1.5v1.5h-1.5zM48.96 235.34h1.5v1.5h-1.5zM46.24 256.76h1.5v1.5h-1.5zM47.22 249.48h1.5v1.5h-1.5zM49.48 249.15h1.5v1.5h-1.5zM45.42 249.58h1.5v1.5h-1.5zM51.12 249.84h1.5v1.5h-1.5zM43.44 249.82h1.5v1.5h-1.5zM53.11 249.87h1.5v1.5h-1.5zM41.35 249.19h1.5v1.5h-1.5zM54.77 249.82h1.5v1.5h-1.5zM46.06 240.23h1.5v1.5h-1.5zM48.38 240.89h1.5v1.5h-1.5zM44.26 240.39h1.5v1.5h-1.5zM46.46 246.02h1.5v1.5h-1.5zM48.4 246.08h1.5v1.5h-1.5zM44.3 245.63h1.5v1.5h-1.5zM46.07 242.42h1.5v1.5h-1.5zM47.13 238.43h1.5v1.5h-1.5zM49.48 238.78h1.5v1.5h-1.5zM46.4 253.19h1.5v1.5h-1.5zM48.31 253.23h1.5v1.5h-1.5zM44.33 252.66h1.5v1.5h-1.5zM46.09 254.41h1.5v1.5h-1.5zM47.22 247.33h1.5v1.5h-1.5zM48.97 247.64h1.5v1.5h-1.5zM47.58 244.22h1.5v1.5h-1.5zM49.06 244.29h1.5v1.5h-1.5zM46.16 223.89h1.5v1.5h-1.5z"/>
<rect x="38.5" y="242.5" width="17" height="7" fill="#e18a97" stroke="#303030" stroke-width="1"/>
<line x1="38.5" y1="246.5" x2="55.5" y2="246.5" stroke="#2a2a2a" stroke-width="1"/>
<line x1="69" y1="233" x2="69" y2="277" stroke="#333" stroke-width="1"/>
<path fill="#1f5b99" d="M68.17 231.11h1.5v1.5h-1.5zM68.54 276.43h1.5v1.5h-1.5zM69.01 241.81h1.5v1.5h-1.5zM71.19 242.26h1.5v1.5h-1.5zM67.01 242.22h1.5v1.5h-1.5zM73.14 242.28h1.5v1.5h-1.5zM69.04 254.85h1.5v1.5h-1.5zM71.16 254.99h1.5v1.5h-1.5zM68.99 249.72h1.5v1.5h-1.5zM71.37 249.67h1.5v1.5h-1.5zM69.41 263.73h1.5v1.5h-1.5zM71.34 263.56h1.5v1.5h-1.5zM67.14 263.94h1.5v1.5h-1.5zM73.24 263.47h1.5v1.5h-1.5zM69.03 265.23h1.5v1.5h-1.5zM71.06 265.33h1.5v1.5h-1.5zM68.06 247.87h1.5v1.5h-1.5zM69.25 262.45h1.5v1.5h-1.5zM71.04 262.21h1.5v1.5h-1.5zM67.01 262.45h1.5v1.5h-1.5zM72.84 262.03h1.5v1.5h-1.5zM65.41 262.45h1.5v1.5h-1.5zM74.9 262.49h1.5v1.5h-1.5zM69.27 256.39h1.5v1.5h-1.5zM71.3 256.38h1.5v1.5h-1.5zM69.5 258.41h1.5v1.5h-1.5zM70.94 258.87h1.5v1.5h-1.5zM67.19 258.37h1.5v1.5h-1.5zM72.91 258.6h1.5v1.5h-1.5zM68.91 251.14h1.5v1.5h-1.5zM70.9 251.55h1.5v1.5h-1.5zM67 251.35h1.5v1.5h-1.5zM72.85 251.21h1.5v1.5h-1.5zM65.44 251.44h1.5v1.5h-1.5zM74.68 251.02h1.5v1.5h-1.5zM63.27 251.66h1.5v1.5h-1.5zM76.59 250.92h1.5v1.5h-1.5zM61.61 251.32h1.5v1.5h-1.5zM78.93 250.85h1.5v1.5h-1.5zM69.04 240.15h1.5v1.5h-1.5zM71.15 240.41h1.5v1.5h-1.5zM69.15 260.6h1.5v1.5h-1.5zM71.2 260.57h1.5v1.5h-1.5zM68.52 252.84h1.5v1.5h-1.5zM68.52 272.77h1.5v1.5h-1.5z"/>
<rect x="60.5" y="253.5" width="17" height="10" fill="#87a7c8" stroke="#303030" stroke-width="1"/>
<line x1="60.5" y1="257.5" x2="77.5" y2="257.5" stroke="#2a2a2a" stroke-width="1"/>
<line x1="91.3" y1="242.6" x2="91.3" y2="295" stroke="#333" stroke-width="1"/>
<path fill="#2bb52b" d="M90.26 242.41h1.5v1.5h-1.5zM90.35 294.33h1.5v1.5h-1.5zM90.83 267.69h1.5v1.5h-1.5zM92.65 267.58h1.5v1.5h-1.5zM88.73 267.63h1.5v1.5h-1.5zM94.63 267.18h1.5v1.5h-1.5zM86.91 267.27h1.5v1.5h-1.5zM91.35 262.34h1.5v1.5h-1.5zM93.46 262.36h1.5v1.5h-1.5zM90.78 280.13h1.5v1.5h-1.5zM91.32 258.01h1.5v1.5h-1.5zM93.42 258.65h1.5v1.5h-1.5zM89.46 258.06h1.5v1.5h-1.5zM95 258.16h1.5v1.5h-1.5zM91.62 270.6h1.5v1.5h-1.5zM93.24 270.84h1.5v1.5h-1.5zM89.73 271.49h1.5v1.5h-1.5zM95.01 270.7h1.5v1.5h-1.5zM90.81 251.67h1.5v1.5h-1.5zM90.34 265.5h1.5v1.5h-1.5zM91.51 256.49h1.5v1.5h-1.5zM93.35 256.63h1.5v1.5h-1.5zM89.46 256.25h1.5v1.5h-1.5zM95.05 256.35h1.5v1.5h-1.5zM91.25 269.36h1.5v1.5h-1.5zM93.52 269.04h1.5v1.5h-1.5zM90.73 247.86h1.5v1.5h-1.5zM90.46 274.64h1.5v1.5h-1.5zM91.31 255.24h1.5v1.5h-1.5zM93.44 254.45h1.5v1.5h-1.5zM90.34 253.22h1.5v1.5h-1.5zM90.48 260.45h1.5v1.5h-1.5zM91.34 264.12h1.5v1.5h-1.5zM93.58 263.48h1.5v1.5h-1.5zM90.6 272.57h1.5v1.5h-1.5z"/>
<rect x="82.5" y="258.5" width="17" height="10" fill="#9ddba0" stroke="#303030" stroke-width="1"/>
<line x1="82.5" y1="262.5" x2="99.5" y2="262.5" stroke="#2a2a2a" stroke-width="1"/>
<line x1="113.1" y1="227" x2="113.1" y2="268.6" stroke="#333" stroke-width="1"/>
<path fill="#5b2c83" d="M112.17 225.93h1.5v1.5h-1.5zM113.22 267.86h1.5v1.5h-1.5zM115.32 267.11h1.5v1.5h-1.5zM112.6 241.83h1.5v1.5h-1.5zM114.3 242.19h1.5v1.5h-1.5zM110.58 242.19h1.5v1.5h-1.5zM115.91 242.27h1.5v1.5h-1.5zM108.74 242.51h1.5v1.5h-1.5zM117.96 242h1.5v1.5h-1.5zM106.8 242.52h1.5v1.5h-1.5zM119.78 242.59h1.5v1.5h-1.5zM105.05 242.19h1.5v1.5h-1.5zM121.78 242.44h1.5v1.5h-1.5zM103.11 241.98h1.5v1.5h-1.5zM123.63 242.1h1.5v1.5h-1.5zM101.09 241.97h1.5v1.5h-1.5zM125.68 242.25h1.5v1.5h-1.5zM99.15 241.93h1.5v1.5h-1.5zM112.62 231.9h1.5v1.5h-1.5zM114.29 231.72h1.5v1.5h-1.5zM110.26 231.82h1.5v1.5h-1.5zM116.18 231.68h1.5v1.5h-1.5zM108.77 231.33h1.5v1.5h-1.5zM118.3 231.19h1.5v1.5h-1.5zM106.36 231.45h1.5v1.5h-1.5zM112.59 244.41h1.5v1.5h-1.5zM114.52 244.06h1.5v1.5h-1.5zM110.71 244.1h1.5v1.5h-1.5zM115.94 244.17h1.5v1.5h-1.5zM108.73 243.98h1.5v1.5h-1.5zM118.11 243.83h1.5v1.5h-1.5zM106.52 243.98h1.5v1.5h-1.5zM119.96 244.02h1.5v1.5h-1.5zM104.51 243.61h1.5v1.5h-1.5zM121.75 244.25h1.5v1.5h-1.5zM103 243.81h1.5v1.5h-1.5zM123.6 244.07h1.5v1.5h-1.5zM100.76 244.14h1.5v1.5h-1.5zM112.59 238.38h1.5v1.5h-1.5zM114.3 238.85h1.5v1.5h-1.5zM110.6 238.84h1.5v1.5h-1.5zM116.28 238.45h1.5v1.5h-1.5zM108.75 239.03h1.5v1.5h-1.5zM117.78 239.05h1.5v1.5h-1.5zM106.62 238.28h1.5v1.5h-1.5zM119.69 238.92h1.5v1.5h-1.5zM104.86 238.33h1.5v1.5h-1.5zM121.83 238.77h1.5v1.5h-1.5zM103.15 238.5h1.5v1.5h-1.5zM113.46 233.02h1.5v1.5h-1.5zM115.02 232.95h1.5v1.5h-1.5zM111.35 233.36h1.5v1.5h-1.5zM116.98 232.95h1.5v1.5h-1.5zM113.13 236.48h1.5v1.5h-1.5zM115.02 236.68h1.5v1.5h-1.5zM111.4 236.57h1.5v1.5h-1.5zM117.09 236.8h1.5v1.5h-1.5zM109.78 236.84h1.5v1.5h-1.5zM119.27 236.82h1.5v1.5h-1.5zM113.12 240.53h1.5v1.5h-1.5zM114.99 240.15h1.5v1.5h-1.5zM111.14 240.63h1.5v1.5h-1.5zM117.38 240.36h1.5v1.5h-1.5zM109.41 240.38h1.5v1.5h-1.5zM118.91 240.62h1.5v1.5h-1.5zM107.54 240.14h1.5v1.5h-1.5zM121.12 240.52h1.5v1.5h-1.5zM105.4 240.76h1.5v1.5h-1.5zM122.94 240.32h1.5v1.5h-1.5zM103.88 240.83h1.5v1.5h-1.5zM124.64 240.39h1.5v1.5h-1.5zM101.78 240.5h1.5v1.5h-1.5zM126.7 240.66h1.5v1.5h-1.5zM113.57 229.33h1.5v1.5h-1.5zM115.12 229.97h1.5v1.5h-1.5zM111.57 229.73h1.5v1.5h-1.5zM117.21 229.51h1.5v1.5h-1.5zM112.62 245.89h1.5v1.5h-1.5zM114.19 245.56h1.5v1.5h-1.5zM110.22 246.21h1.5v1.5h-1.5zM116.33 245.42h1.5v1.5h-1.5zM108.44 245.83h1.5v1.5h-1.5zM113.3 234.93h1.5v1.5h-1.5zM115.44 234.91h1.5v1.5h-1.5zM111.42 235.44h1.5v1.5h-1.5zM117.18 235.03h1.5v1.5h-1.5zM109.4 234.95h1.5v1.5h-1.5zM119.07 235.31h1.5v1.5h-1.5zM107.46 234.93h1.5v1.5h-1.5zM120.83 234.93h1.5v1.5h-1.5zM105.95 235.09h1.5v1.5h-1.5zM122.67 234.9h1.5v1.5h-1.5zM112.54 249.14h1.5v1.5h-1.5zM112.46 227.42h1.5v1.5h-1.5zM114.07 227.45h1.5v1.5h-1.5zM110.63 227.53h1.5v1.5h-1.5zM112.19 247.25h1.5v1.5h-1.5zM114.11 247.86h1.5v1.5h-1.5zM110.58 248.02h1.5v1.5h-1.5zM112.62 256.7h1.5v1.5h-1.5z"/>
<rect x="104.5" y="237.5" width="17" height="6" fill="#a890bf" stroke="#303030" stroke-width="1"/>
<line x1="104.5" y1="240.5" x2="121.5" y2="240.5" stroke="#2a2a2a" stroke-width="1"/>
<line x1="135.1" y1="244" x2="135.1" y2="290" stroke="#333" stroke-width="1"/>
<path fill="#ff9a0a" d="M134.54 243.61h1.5v1.5h-1.5zM136.07 243.76h1.5v1.5h-1.5zM132.65 243.69h1.5v1.5h-1.5zM134.61 288.84h1.5v1.5h-1.5zM136.48 289.06h1.5v1.5h-1.5zM132.34 289.47h1.5v1.5h-1.5zM135.24 246.03h1.5v1.5h-1.5zM136.94 246.15h1.5v1.5h-1.5zM134.64 259.9h1.5v1.5h-1.5zM136.4 260.04h1.5v1.5h-1.5zM132.24 260.13h1.5v1.5h-1.5zM138.25 260.66h1.5v1.5h-1.5zM130.85 260.69h1.5v1.5h-1.5zM140.12 260.39h1.5v1.5h-1.5zM128.45 260.45h1.5v1.5h-1.5zM141.98 260.12h1.5v1.5h-1.5zM126.99 260.03h1.5v1.5h-1.5zM143.63 259.94h1.5v1.5h-1.5zM124.64 260.33h1.5v1.5h-1.5zM134.53 267.14h1.5v1.5h-1.5zM136.25 267.52h1.5v1.5h-1.5zM132.49 267.37h1.5v1.5h-1.5zM138.18 267.01h1.5v1.5h-1.5zM130.28 267.38h1.5v1.5h-1.5zM139.89 267.68h1.5v1.5h-1.5zM128.5 267.74h1.5v1.5h-1.5zM141.79 267.08h1.5v1.5h-1.5zM126.74 267.35h1.5v1.5h-1.5zM143.75 267.69h1.5v1.5h-1.5zM124.68 267.6h1.5v1.5h-1.5zM135.5 253.01h1.5v1.5h-1.5zM137.2 253.43h1.5v1.5h-1.5zM135.36 274.36h1.5v1.5h-1.5zM136.94 274.27h1.5v1.5h-1.5zM133.3 274.28h1.5v1.5h-1.5zM139.19 274.58h1.5v1.5h-1.5zM131.39 274.66h1.5v1.5h-1.5zM141.26 274.42h1.5v1.5h-1.5zM135.09 261.87h1.5v1.5h-1.5zM137.09 262.42h1.5v1.5h-1.5zM133.52 261.99h1.5v1.5h-1.5zM138.9 261.64h1.5v1.5h-1.5zM131.27 262.36h1.5v1.5h-1.5zM141.09 261.74h1.5v1.5h-1.5zM129.68 261.65h1.5v1.5h-1.5zM142.9 261.9h1.5v1.5h-1.5zM127.46 262.27h1.5v1.5h-1.5zM144.93 262.06h1.5v1.5h-1.5zM125.6 262.2h1.5v1.5h-1.5zM146.66 262.2h1.5v1.5h-1.5zM135.05 266.01h1.5v1.5h-1.5zM136.9 265.4h1.5v1.5h-1.5zM133.34 265.38h1.5v1.5h-1.5zM138.85 265.82h1.5v1.5h-1.5zM131.8 265.5h1.5v1.5h-1.5zM140.86 265.8h1.5v1.5h-1.5zM129.43 265.56h1.5v1.5h-1.5zM143.01 265.59h1.5v1.5h-1.5zM134.14 258.06h1.5v1.5h-1.5zM136.28 258.89h1.5v1.5h-1.5zM132.7 258.09h1.5v1.5h-1.5zM134.35 283.64h1.5v1.5h-1.5zM136.07 283.8h1.5v1.5h-1.5zM132.45 283.93h1.5v1.5h-1.5zM135.18 273.24h1.5v1.5h-1.5zM137.39 272.83h1.5v1.5h-1.5zM133.18 272.84h1.5v1.5h-1.5zM138.88 273.02h1.5v1.5h-1.5zM131.62 272.92h1.5v1.5h-1.5zM141.29 272.44h1.5v1.5h-1.5zM134.48 276.72h1.5v1.5h-1.5zM136.02 276.29h1.5v1.5h-1.5zM132.18 276.52h1.5v1.5h-1.5zM138.28 276.31h1.5v1.5h-1.5zM130.67 276.33h1.5v1.5h-1.5zM140.18 276.25h1.5v1.5h-1.5zM128.94 276.39h1.5v1.5h-1.5zM135 263.48h1.5v1.5h-1.5zM137.34 264.18h1.5v1.5h-1.5zM133.48 263.54h1.5v1.5h-1.5zM139.32 264.05h1.5v1.5h-1.5zM134.12 287.14h1.5v1.5h-1.5zM136.35 286.8h1.5v1.5h-1.5zM132.18 287.12h1.5v1.5h-1.5zM134.57 271.5h1.5v1.5h-1.5zM136.14 271.42h1.5v1.5h-1.5zM132.62 271.38h1.5v1.5h-1.5zM135.35 285.87h1.5v1.5h-1.5zM137.29 285.85h1.5v1.5h-1.5zM133.44 285.18h1.5v1.5h-1.5zM139.11 285.43h1.5v1.5h-1.5zM134.25 269.14h1.5v1.5h-1.5zM136.26 269.33h1.5v1.5h-1.5zM132.28 269.05h1.5v1.5h-1.5zM138.15 269.25h1.5v1.5h-1.5zM130.5 269.4h1.5v1.5h-1.5zM134.16 256.68h1.5v1.5h-1.5zM134.22 282.09h1.5v1.5h-1.5zM136.37 282.1h1.5v1.5h-1.5zM132.46 281.62h1.5v1.5h-1.5zM135.56 278.26h1.5v1.5h-1.5zM137.13 278.06h1.5v1.5h-1.5zM134.29 249.64h1.5v1.5h-1.5zM135.49 254.83h1.5v1.5h-1.5zM137.34 254.59h1.5v1.5h-1.5zM133.37 254.72h1.5v1.5h-1.5zM138.98 254.72h1.5v1.5h-1.5zM135.45 280.26h1.5v1.5h-1.5zM137.02 279.81h1.5v1.5h-1.5zM134.52 251.39h1.5v1.5h-1.5z"/>
<rect x="126.5" y="263.5" width="17" height="12" fill="#fdca80" stroke="#303030" stroke-width="1"/>
<line x1="126.5" y1="268.5" x2="143.5" y2="268.5" stroke="#2a2a2a" stroke-width="1"/>
<line x1="157.5" y1="232" x2="157.5" y2="275.4" stroke="#333" stroke-width="1"/>
<path fill="#1a6b5a" d="M156.79 231.29h1.5v1.5h-1.5zM157.42 274.49h1.5v1.5h-1.5zM159.69 274.74h1.5v1.5h-1.5zM156.76 245.51h1.5v1.5h-1.5zM158.48 245.68h1.5v1.5h-1.5zM154.8 245.73h1.5v1.5h-1.5zM157.94 249.1h1.5v1.5h-1.5zM159.89 249.22h1.5v1.5h-1.5zM156.96 243.82h1.5v1.5h-1.5zM157.75 260.14h1.5v1.5h-1.5zM159.32 260.52h1.5v1.5h-1.5zM155.99 260.04h1.5v1.5h-1.5zM161.67 260.23h1.5v1.5h-1.5zM157.99 258.05h1.5v1.5h-1.5zM159.53 258.21h1.5v1.5h-1.5zM156.82 242.5h1.5v1.5h-1.5zM158.86 242.29h1.5v1.5h-1.5zM154.78 242.52h1.5v1.5h-1.5zM156.51 238.43h1.5v1.5h-1.5zM156.9 271h1.5v1.5h-1.5zM158 252.68h1.5v1.5h-1.5zM159.58 252.79h1.5v1.5h-1.5zM155.5 252.68h1.5v1.5h-1.5zM161.25 252.93h1.5v1.5h-1.5zM156.71 247.66h1.5v1.5h-1.5zM156.62 264.03h1.5v1.5h-1.5zM156.76 237.28h1.5v1.5h-1.5zM156.55 265.66h1.5v1.5h-1.5zM156.75 267.33h1.5v1.5h-1.5zM156.97 240.19h1.5v1.5h-1.5zM156.98 283.52h1.5v1.5h-1.5zM156.65 326.95h1.5v1.5h-1.5z"/>
<rect x="149.5" y="246.5" width="17" height="13" fill="#7fb5a5" stroke="#303030" stroke-width="1"/>
<line x1="149.5" y1="252.5" x2="166.5" y2="252.5" stroke="#2a2a2a" stroke-width="1"/>
<line x1="179.5" y1="238.6" x2="179.5" y2="282" stroke="#333" stroke-width="1"/>
<path fill="#8a80d0" d="M178.96 238.36h1.5v1.5h-1.5zM178.95 281.87h1.5v1.5h-1.5zM178.46 273.2h1.5v1.5h-1.5zM180.61 273.15h1.5v1.5h-1.5zM176.96 272.88h1.5v1.5h-1.5zM178.97 274.38h1.5v1.5h-1.5zM178.99 269.1h1.5v1.5h-1.5zM178.47 265.5h1.5v1.5h-1.5zM180.39 265.26h1.5v1.5h-1.5zM176.92 265.31h1.5v1.5h-1.5zM182.35 265.46h1.5v1.5h-1.5zM174.82 266.03h1.5v1.5h-1.5zM178.99 258.78h1.5v1.5h-1.5zM180.94 258.4h1.5v1.5h-1.5zM177.03 258.25h1.5v1.5h-1.5zM182.81 258.73h1.5v1.5h-1.5zM175.09 258.2h1.5v1.5h-1.5zM179.45 257.03h1.5v1.5h-1.5zM181.63 256.75h1.5v1.5h-1.5zM178.02 256.33h1.5v1.5h-1.5zM183.62 256.62h1.5v1.5h-1.5zM178.92 251.21h1.5v1.5h-1.5zM178.57 253.46h1.5v1.5h-1.5zM180.52 253.27h1.5v1.5h-1.5zM177.05 252.82h1.5v1.5h-1.5zM178.87 261.96h1.5v1.5h-1.5zM179.53 260h1.5v1.5h-1.5zM181.87 260.13h1.5v1.5h-1.5zM178.76 254.85h1.5v1.5h-1.5zM180.37 255.08h1.5v1.5h-1.5zM177 255.19h1.5v1.5h-1.5zM178.66 267.19h1.5v1.5h-1.5zM180.56 267.66h1.5v1.5h-1.5zM176.94 267.37h1.5v1.5h-1.5zM178.76 249.14h1.5v1.5h-1.5z"/>
<rect x="171.5" y="256.5" width="17" height="9" fill="#c8c3e6" stroke="#303030" stroke-width="1"/>
<line x1="171.5" y1="261.5" x2="188.5" y2="261.5" stroke="#2a2a2a" stroke-width="1"/>
<line x1="201.5" y1="238.6" x2="201.5" y2="275" stroke="#333" stroke-width="1"/>
<path fill="#3a4658" d="M200.88 238.3h1.5v1.5h-1.5zM200.58 274.21h1.5v1.5h-1.5zM200.65 245.5h1.5v1.5h-1.5zM202.77 246.1h1.5v1.5h-1.5zM199.15 245.59h1.5v1.5h-1.5zM200.47 258.68h1.5v1.5h-1.5zM202.6 258.84h1.5v1.5h-1.5zM198.79 258.28h1.5v1.5h-1.5zM204.29 258.85h1.5v1.5h-1.5zM196.96 258.4h1.5v1.5h-1.5zM201.66 253.29h1.5v1.5h-1.5zM203.8 253.03h1.5v1.5h-1.5zM200.56 247.57h1.5v1.5h-1.5zM202.88 247.57h1.5v1.5h-1.5zM198.95 247.7h1.5v1.5h-1.5zM204.53 247.72h1.5v1.5h-1.5zM196.8 247.7h1.5v1.5h-1.5zM200.97 256.27h1.5v1.5h-1.5zM202.57 256.99h1.5v1.5h-1.5zM199.14 256.21h1.5v1.5h-1.5zM200.83 262.17h1.5v1.5h-1.5zM200.96 260.22h1.5v1.5h-1.5zM202.43 260.07h1.5v1.5h-1.5zM198.98 260.46h1.5v1.5h-1.5zM204.37 260.38h1.5v1.5h-1.5zM197.04 260.39h1.5v1.5h-1.5zM206.16 260.2h1.5v1.5h-1.5zM194.94 260.34h1.5v1.5h-1.5zM200.65 243.72h1.5v1.5h-1.5zM200.85 265.46h1.5v1.5h-1.5zM202.82 265.48h1.5v1.5h-1.5zM198.88 265.93h1.5v1.5h-1.5zM200.52 267.66h1.5v1.5h-1.5zM200.49 242.64h1.5v1.5h-1.5zM201.42 264.05h1.5v1.5h-1.5zM203.52 263.56h1.5v1.5h-1.5zM201.64 269.25h1.5v1.5h-1.5zM203.55 268.91h1.5v1.5h-1.5zM200.76 251.07h1.5v1.5h-1.5zM201.03 254.74h1.5v1.5h-1.5z"/>
<rect x="193.5" y="249.5" width="17" height="12" fill="#a0a4a8" stroke="#303030" stroke-width="1"/>
<line x1="193.5" y1="255.5" x2="210.5" y2="255.5" stroke="#2a2a2a" stroke-width="1"/>
<line x1="223.9" y1="250.6" x2="223.9" y2="277" stroke="#333" stroke-width="1"/>
<path fill="#2aaae6" d="M223.1 249.8h1.5v1.5h-1.5zM223.96 276.88h1.5v1.5h-1.5zM226.24 276.89h1.5v1.5h-1.5zM223.42 263.63h1.5v1.5h-1.5zM225.24 263.95h1.5v1.5h-1.5zM221.07 264.3h1.5v1.5h-1.5zM224.19 265.93h1.5v1.5h-1.5zM226.03 265.27h1.5v1.5h-1.5zM224.32 252.76h1.5v1.5h-1.5zM225.86 253.15h1.5v1.5h-1.5zM222.02 253.02h1.5v1.5h-1.5zM228.03 252.69h1.5v1.5h-1.5zM220.4 252.69h1.5v1.5h-1.5zM229.79 253.18h1.5v1.5h-1.5zM224.21 261.64h1.5v1.5h-1.5zM225.81 262.46h1.5v1.5h-1.5zM222.13 261.98h1.5v1.5h-1.5zM227.82 262.23h1.5v1.5h-1.5zM223.29 260.39h1.5v1.5h-1.5zM223.09 267.51h1.5v1.5h-1.5zM224.11 258.17h1.5v1.5h-1.5zM226.27 258.87h1.5v1.5h-1.5zM222.37 258.89h1.5v1.5h-1.5zM227.88 258.76h1.5v1.5h-1.5zM223.94 271.27h1.5v1.5h-1.5zM226.13 271.44h1.5v1.5h-1.5zM223.35 255.19h1.5v1.5h-1.5zM224.91 255.11h1.5v1.5h-1.5zM221.24 254.68h1.5v1.5h-1.5zM226.87 255.12h1.5v1.5h-1.5zM219.56 255.16h1.5v1.5h-1.5zM223.25 272.55h1.5v1.5h-1.5zM222.94 269.31h1.5v1.5h-1.5zM224.88 269.1h1.5v1.5h-1.5zM221.01 268.94h1.5v1.5h-1.5zM223.28 231.2h1.5v1.5h-1.5z"/>
<rect x="215.5" y="255.5" width="17" height="13" fill="#95d8f2" stroke="#303030" stroke-width="1"/>
<line x1="215.5" y1="261.5" x2="232.5" y2="261.5" stroke="#2a2a2a" stroke-width="1"/>
<path d="M34 207.4 V332.5 H237" fill="none" stroke="#333" stroke-width="1.5"/>
<line x1="31" y1="231" x2="34" y2="231" stroke="#333" stroke-width="1.1"/>
<text x="28.5" y="233.4" text-anchor="end" class="t">10000</text>
<line x1="31" y1="251.4" x2="34" y2="251.4" stroke="#333" stroke-width="1.1"/>
<text x="28.5" y="253.8" text-anchor="end" class="t">1000</text>
<line x1="31" y1="271.6" x2="34" y2="271.6" stroke="#333" stroke-width="1.1"/>
<text x="28.5" y="274" text-anchor="end" class="t">100</text>
<line x1="31" y1="292.1" x2="34" y2="292.1" stroke="#333" stroke-width="1.1"/>
<text x="28.5" y="294.5" text-anchor="end" class="t">10</text>
<line x1="31" y1="312.4" x2="34" y2="312.4" stroke="#333" stroke-width="1.1"/>
<text x="28.5" y="314.8" text-anchor="end" class="t">1</text>
<line x1="45.6" y1="332.5" x2="45.6" y2="335.5" stroke="#333" stroke-width="1.1"/>
<line x1="67.78" y1="332.5" x2="67.78" y2="335.5" stroke="#333" stroke-width="1.1"/>
<line x1="89.96" y1="332.5" x2="89.96" y2="335.5" stroke="#333" stroke-width="1.1"/>
<line x1="112.14" y1="332.5" x2="112.14" y2="335.5" stroke="#333" stroke-width="1.1"/>
<line x1="134.32" y1="332.5" x2="134.32" y2="335.5" stroke="#333" stroke-width="1.1"/>
<line x1="156.5" y1="332.5" x2="156.5" y2="335.5" stroke="#333" stroke-width="1.1"/>
<line x1="178.68" y1="332.5" x2="178.68" y2="335.5" stroke="#333" stroke-width="1.1"/>
<line x1="200.86" y1="332.5" x2="200.86" y2="335.5" stroke="#333" stroke-width="1.1"/>
<line x1="223.04" y1="332.5" x2="223.04" y2="335.5" stroke="#333" stroke-width="1.1"/>
<text transform="translate(49.3,340.8) rotate(-45)" text-anchor="end" class="x">BL</text>
<text transform="translate(71.2,340.8) rotate(-45)" text-anchor="end" class="x">CD10<tspan dx="0.3" dy="-2.7" font-size="5.6">–</tspan><tspan dy="2.9"> DLBCL</tspan></text>
<text transform="translate(93.5,340.8) rotate(-45)" text-anchor="end" class="x">CD10<tspan dx="0.3" dy="-2.7" font-size="5.6">+</tspan><tspan dy="2.9"> DLBCL</tspan></text>
<text transform="translate(115.3,340.8) rotate(-45)" text-anchor="end" class="x">CLL</text>
<text transform="translate(137.3,340.8) rotate(-45)" text-anchor="end" class="x">FL</text>
<text transform="translate(159.7,340.8) rotate(-45)" text-anchor="end" class="x">HCL</text>
<text transform="translate(181.7,340.8) rotate(-45)" text-anchor="end" class="x">LPL</text>
<text transform="translate(203.7,340.8) rotate(-45)" text-anchor="end" class="x">MCL</text>
<text transform="translate(226.1,340.8) rotate(-45)" text-anchor="end" class="x">MZL</text>
<text x="47.1" y="209.2" text-anchor="middle" class="n">1670</text>
<circle cx="44.5" cy="213.9" r="1.05" fill="#2a2a2a"/>
<circle cx="47.1" cy="213.9" r="1.05" fill="#2a2a2a"/>
<circle cx="49.7" cy="213.9" r="1.05" fill="#2a2a2a"/>
<text x="69" y="209.2" text-anchor="middle" class="n">490</text>
<circle cx="66.4" cy="213.9" r="1.05" fill="#2a2a2a"/>
<circle cx="69" cy="213.9" r="1.05" fill="#2a2a2a"/>
<circle cx="71.6" cy="213.9" r="1.05" fill="#2a2a2a"/>
<text x="91.3" y="209.2" text-anchor="middle" class="n">275</text>
<text x="113.1" y="209.2" text-anchor="middle" class="n">3638</text>
<circle cx="110.5" cy="213.9" r="1.05" fill="#2a2a2a"/>
<circle cx="113.1" cy="213.9" r="1.05" fill="#2a2a2a"/>
<circle cx="115.7" cy="213.9" r="1.05" fill="#2a2a2a"/>
<text x="135.1" y="209.2" text-anchor="middle" class="n">131</text>
<text x="135.1" y="217.7" text-anchor="middle" class="h" stroke="#333" stroke-width="0.5">#</text>
<text x="157.5" y="209.2" text-anchor="middle" class="n">850</text>
<circle cx="154.9" cy="213.9" r="1.05" fill="#2a2a2a"/>
<circle cx="157.5" cy="213.9" r="1.05" fill="#2a2a2a"/>
<circle cx="160.1" cy="213.9" r="1.05" fill="#2a2a2a"/>
<text x="179.5" y="209.2" text-anchor="middle" class="n">295</text>
<text x="201.5" y="209.2" text-anchor="middle" class="n">626</text>
<circle cx="198.9" cy="213.9" r="1.05" fill="#2a2a2a"/>
<circle cx="201.5" cy="213.9" r="1.05" fill="#2a2a2a"/>
<circle cx="204.1" cy="213.9" r="1.05" fill="#2a2a2a"/>
<text x="223.9" y="209.2" text-anchor="middle" class="n">363</text>
<text x="39.4" y="324.6" text-anchor="start" class="l">CD43</text>
<line x1="323.7" y1="252.4" x2="323.7" y2="305.4" stroke="#333" stroke-width="1"/>
<path fill="#e01a40" d="M322.92 251.22h1.5v1.5h-1.5zM323.11 305.09h1.5v1.5h-1.5zM323.67 265.76h1.5v1.5h-1.5zM325.99 265.42h1.5v1.5h-1.5zM322.11 266h1.5v1.5h-1.5zM327.48 265.32h1.5v1.5h-1.5zM322.95 281.7h1.5v1.5h-1.5zM323.22 269.7h1.5v1.5h-1.5zM324.82 269.51h1.5v1.5h-1.5zM321.13 268.96h1.5v1.5h-1.5zM327.03 268.96h1.5v1.5h-1.5zM318.9 269.21h1.5v1.5h-1.5zM322.66 290.83h1.5v1.5h-1.5zM322.9 276.86h1.5v1.5h-1.5zM323.85 285.76h1.5v1.5h-1.5zM325.97 285.53h1.5v1.5h-1.5zM321.84 285.27h1.5v1.5h-1.5zM327.69 285.36h1.5v1.5h-1.5zM323.04 267.45h1.5v1.5h-1.5zM323.79 289.15h1.5v1.5h-1.5zM326.1 288.78h1.5v1.5h-1.5zM322.85 272.41h1.5v1.5h-1.5zM322.71 261.65h1.5v1.5h-1.5zM322.9 283.95h1.5v1.5h-1.5zM323.07 296.67h1.5v1.5h-1.5zM323.15 292.73h1.5v1.5h-1.5zM323 254.41h1.5v1.5h-1.5zM322.88 297.84h1.5v1.5h-1.5z"/>
<rect x="315.5" y="269.5" width="17" height="16" fill="#e18a97" stroke="#303030" stroke-width="1"/>
<line x1="315.5" y1="275.5" x2="332.5" y2="275.5" stroke="#2a2a2a" stroke-width="1"/>
<line x1="345.8" y1="227.4" x2="345.8" y2="291" stroke="#333" stroke-width="1"/>
<path fill="#1f5b99" d="M344.75 226.38h1.5v1.5h-1.5zM345.25 290.49h1.5v1.5h-1.5zM345.21 253.3h1.5v1.5h-1.5zM347.03 253.35h1.5v1.5h-1.5zM343.44 252.9h1.5v1.5h-1.5zM349.05 253.43h1.5v1.5h-1.5zM341.14 253.22h1.5v1.5h-1.5zM346.11 274.96h1.5v1.5h-1.5zM347.94 274.45h1.5v1.5h-1.5zM343.95 274.69h1.5v1.5h-1.5zM349.58 274.97h1.5v1.5h-1.5zM342.43 274.42h1.5v1.5h-1.5zM351.82 274.81h1.5v1.5h-1.5zM345.77 276.7h1.5v1.5h-1.5zM348.06 276.28h1.5v1.5h-1.5zM345.76 283.45h1.5v1.5h-1.5zM348.06 283.62h1.5v1.5h-1.5zM346.19 286.94h1.5v1.5h-1.5zM347.66 287.11h1.5v1.5h-1.5zM346.23 254.55h1.5v1.5h-1.5zM347.64 255.08h1.5v1.5h-1.5zM344.8 271.2h1.5v1.5h-1.5zM346.7 270.82h1.5v1.5h-1.5zM343.25 271.39h1.5v1.5h-1.5zM345 281.8h1.5v1.5h-1.5zM344.77 245.71h1.5v1.5h-1.5zM345.85 256.91h1.5v1.5h-1.5zM348.03 256.91h1.5v1.5h-1.5zM345.07 233.43h1.5v1.5h-1.5zM345.78 251.15h1.5v1.5h-1.5zM347.78 251.05h1.5v1.5h-1.5zM345.19 249.19h1.5v1.5h-1.5zM346.85 249.25h1.5v1.5h-1.5zM343.37 249.57h1.5v1.5h-1.5zM345.04 234.94h1.5v1.5h-1.5zM346.25 239.05h1.5v1.5h-1.5zM347.87 238.71h1.5v1.5h-1.5zM345.27 247.43h1.5v1.5h-1.5zM345.86 243.69h1.5v1.5h-1.5zM347.9 244.29h1.5v1.5h-1.5zM344.84 288.99h1.5v1.5h-1.5zM345.34 267.43h1.5v1.5h-1.5zM344.98 258.76h1.5v1.5h-1.5zM345.29 272.74h1.5v1.5h-1.5zM344.82 285.57h1.5v1.5h-1.5zM345.19 327.23h1.5v1.5h-1.5z"/>
<rect x="337.5" y="254.5" width="17" height="20" fill="#87a7c8" stroke="#303030" stroke-width="1"/>
<line x1="337.5" y1="261.5" x2="354.5" y2="261.5" stroke="#2a2a2a" stroke-width="1"/>
<line x1="367.9" y1="242" x2="367.9" y2="288" stroke="#333" stroke-width="1"/>
<path fill="#2bb52b" d="M367.03 240.06h1.5v1.5h-1.5zM367.18 287.39h1.5v1.5h-1.5zM366.98 258.04h1.5v1.5h-1.5zM369.04 258.03h1.5v1.5h-1.5zM365.39 258.56h1.5v1.5h-1.5zM367.02 278.2h1.5v1.5h-1.5zM368.89 277.97h1.5v1.5h-1.5zM365.06 278.53h1.5v1.5h-1.5zM368.07 246.04h1.5v1.5h-1.5zM369.91 246.13h1.5v1.5h-1.5zM367.21 276.59h1.5v1.5h-1.5zM367.09 242.31h1.5v1.5h-1.5zM368.86 242.68h1.5v1.5h-1.5zM365.35 242.28h1.5v1.5h-1.5zM367.23 267.09h1.5v1.5h-1.5zM368 272.61h1.5v1.5h-1.5zM370.21 272.41h1.5v1.5h-1.5zM366.17 273.18h1.5v1.5h-1.5zM372.07 273.05h1.5v1.5h-1.5zM367.98 254.61h1.5v1.5h-1.5zM370.12 254.67h1.5v1.5h-1.5zM367.28 261.91h1.5v1.5h-1.5zM367.31 253.12h1.5v1.5h-1.5zM367.34 269.69h1.5v1.5h-1.5zM367.08 257.09h1.5v1.5h-1.5zM366.86 280.39h1.5v1.5h-1.5zM366.87 265.69h1.5v1.5h-1.5zM368.98 265.89h1.5v1.5h-1.5zM365.14 265.39h1.5v1.5h-1.5zM367.32 274.7h1.5v1.5h-1.5zM368.25 283.64h1.5v1.5h-1.5zM369.72 283.89h1.5v1.5h-1.5zM366.98 260.22h1.5v1.5h-1.5zM366.85 270.83h1.5v1.5h-1.5zM367.25 249.69h1.5v1.5h-1.5zM367.23 294.4h1.5v1.5h-1.5zM367.29 301.8h1.5v1.5h-1.5zM366.97 307.08h1.5v1.5h-1.5z"/>
<rect x="359.5" y="257.5" width="17" height="15" fill="#9ddba0" stroke="#303030" stroke-width="1"/>
<line x1="359.5" y1="262.5" x2="376.5" y2="262.5" stroke="#2a2a2a" stroke-width="1"/>
<line x1="389.9" y1="254.4" x2="389.9" y2="292" stroke="#333" stroke-width="1"/>
<path fill="#5b2c83" d="M389.19 252.93h1.5v1.5h-1.5zM389.08 290.78h1.5v1.5h-1.5zM390.97 291.27h1.5v1.5h-1.5zM387 290.42h1.5v1.5h-1.5zM390.23 270.96h1.5v1.5h-1.5zM391.97 271.13h1.5v1.5h-1.5zM388.12 270.82h1.5v1.5h-1.5zM393.61 271.39h1.5v1.5h-1.5zM386.56 270.86h1.5v1.5h-1.5zM395.78 270.89h1.5v1.5h-1.5zM389.84 267.8h1.5v1.5h-1.5zM392.2 267.22h1.5v1.5h-1.5zM388.05 267.63h1.5v1.5h-1.5zM394.08 267.42h1.5v1.5h-1.5zM386.23 267.21h1.5v1.5h-1.5zM395.98 267.78h1.5v1.5h-1.5zM390.31 277.9h1.5v1.5h-1.5zM392.06 278.69h1.5v1.5h-1.5zM388.33 278.21h1.5v1.5h-1.5zM393.69 277.85h1.5v1.5h-1.5zM386.44 277.86h1.5v1.5h-1.5zM395.99 278.4h1.5v1.5h-1.5zM384.38 278.6h1.5v1.5h-1.5zM397.96 278.35h1.5v1.5h-1.5zM382.26 278.33h1.5v1.5h-1.5zM399.55 278.02h1.5v1.5h-1.5zM380.86 278.46h1.5v1.5h-1.5zM401.27 278.01h1.5v1.5h-1.5zM378.61 278.32h1.5v1.5h-1.5zM403.29 278.2h1.5v1.5h-1.5zM376.99 277.96h1.5v1.5h-1.5zM405.43 278.1h1.5v1.5h-1.5zM389.42 276.86h1.5v1.5h-1.5zM390.95 276.55h1.5v1.5h-1.5zM387.02 276.37h1.5v1.5h-1.5zM393.02 276.57h1.5v1.5h-1.5zM385.26 276.03h1.5v1.5h-1.5zM394.62 276.5h1.5v1.5h-1.5zM383.25 276.28h1.5v1.5h-1.5zM390.17 280.41h1.5v1.5h-1.5zM392.01 279.83h1.5v1.5h-1.5zM388.25 279.85h1.5v1.5h-1.5zM394.07 279.74h1.5v1.5h-1.5zM386.16 279.99h1.5v1.5h-1.5zM396.04 279.75h1.5v1.5h-1.5zM388.97 286.92h1.5v1.5h-1.5zM388.98 258.3h1.5v1.5h-1.5zM390.99 258.68h1.5v1.5h-1.5zM387.19 258.43h1.5v1.5h-1.5zM390.04 269.5h1.5v1.5h-1.5zM392.24 269.18h1.5v1.5h-1.5zM388.45 269.03h1.5v1.5h-1.5zM394.19 269.27h1.5v1.5h-1.5zM386.41 269.14h1.5v1.5h-1.5zM395.66 268.92h1.5v1.5h-1.5zM384.63 269.12h1.5v1.5h-1.5zM397.82 269.21h1.5v1.5h-1.5zM389.17 261.79h1.5v1.5h-1.5zM389.91 256.5h1.5v1.5h-1.5zM392.11 256.69h1.5v1.5h-1.5zM387.9 256.84h1.5v1.5h-1.5zM393.86 256.26h1.5v1.5h-1.5zM389.01 288.79h1.5v1.5h-1.5zM390.29 272.9h1.5v1.5h-1.5zM391.9 272.62h1.5v1.5h-1.5zM388.07 272.65h1.5v1.5h-1.5zM393.81 273.11h1.5v1.5h-1.5zM386.47 273.03h1.5v1.5h-1.5zM396.03 272.99h1.5v1.5h-1.5zM389.87 265.24h1.5v1.5h-1.5zM391.8 265.43h1.5v1.5h-1.5zM388.22 265.94h1.5v1.5h-1.5zM393.95 265.59h1.5v1.5h-1.5zM386.15 266.08h1.5v1.5h-1.5zM395.95 265.51h1.5v1.5h-1.5zM384.13 266.08h1.5v1.5h-1.5zM397.55 265.96h1.5v1.5h-1.5zM382.27 265.79h1.5v1.5h-1.5zM399.51 266h1.5v1.5h-1.5zM389.98 263.49h1.5v1.5h-1.5zM391.82 264.13h1.5v1.5h-1.5zM388.49 263.98h1.5v1.5h-1.5zM394.01 263.65h1.5v1.5h-1.5zM386.16 263.48h1.5v1.5h-1.5zM396.09 263.44h1.5v1.5h-1.5zM390.17 274.51h1.5v1.5h-1.5zM391.81 274.59h1.5v1.5h-1.5zM388.46 274.42h1.5v1.5h-1.5zM393.7 274.77h1.5v1.5h-1.5zM390.19 283.66h1.5v1.5h-1.5zM391.81 283.99h1.5v1.5h-1.5zM387.97 283.36h1.5v1.5h-1.5zM393.75 283.66h1.5v1.5h-1.5zM389.14 260.3h1.5v1.5h-1.5zM391.19 260.6h1.5v1.5h-1.5zM387.23 259.84h1.5v1.5h-1.5zM390.3 281.42h1.5v1.5h-1.5zM391.89 281.53h1.5v1.5h-1.5zM388.26 282.1h1.5v1.5h-1.5zM393.68 281.66h1.5v1.5h-1.5z"/>
<rect x="381.5" y="267.5" width="17" height="11" fill="#a890bf" stroke="#303030" stroke-width="1"/>
<line x1="381.5" y1="273.5" x2="398.5" y2="273.5" stroke="#2a2a2a" stroke-width="1"/>
<line x1="411.9" y1="245" x2="411.9" y2="296" stroke="#333" stroke-width="1"/>
<path fill="#ff9a0a" d="M410.97 244.37h1.5v1.5h-1.5zM411.81 294.48h1.5v1.5h-1.5zM414.04 294.13h1.5v1.5h-1.5zM410.45 294.4h1.5v1.5h-1.5zM415.71 294.37h1.5v1.5h-1.5zM412.15 270.99h1.5v1.5h-1.5zM413.7 270.68h1.5v1.5h-1.5zM410.33 270.72h1.5v1.5h-1.5zM415.75 271.33h1.5v1.5h-1.5zM408.52 271.39h1.5v1.5h-1.5zM417.6 270.6h1.5v1.5h-1.5zM406.55 271.14h1.5v1.5h-1.5zM419.62 270.62h1.5v1.5h-1.5zM412.06 276.21h1.5v1.5h-1.5zM414.05 276.88h1.5v1.5h-1.5zM410.03 276.07h1.5v1.5h-1.5zM416.02 276.1h1.5v1.5h-1.5zM410.98 274.6h1.5v1.5h-1.5zM413.34 274.49h1.5v1.5h-1.5zM409.14 274.63h1.5v1.5h-1.5zM414.75 274.56h1.5v1.5h-1.5zM407.47 274.49h1.5v1.5h-1.5zM412.28 277.97h1.5v1.5h-1.5zM413.76 278.36h1.5v1.5h-1.5zM410.17 278.63h1.5v1.5h-1.5zM415.66 278.47h1.5v1.5h-1.5zM411.25 260.13h1.5v1.5h-1.5zM412.83 260.35h1.5v1.5h-1.5zM409.4 260.23h1.5v1.5h-1.5zM414.93 260.42h1.5v1.5h-1.5zM407.42 260.18h1.5v1.5h-1.5zM416.66 260.22h1.5v1.5h-1.5zM405.48 260.61h1.5v1.5h-1.5zM411.45 269.3h1.5v1.5h-1.5zM412.95 269h1.5v1.5h-1.5zM409.33 269.46h1.5v1.5h-1.5zM414.8 269.42h1.5v1.5h-1.5zM407.65 269.15h1.5v1.5h-1.5zM417.11 269.19h1.5v1.5h-1.5zM405.54 269.58h1.5v1.5h-1.5zM411.92 256.51h1.5v1.5h-1.5zM414.29 256.26h1.5v1.5h-1.5zM410.08 256.63h1.5v1.5h-1.5zM416.05 256.77h1.5v1.5h-1.5zM408.56 256.8h1.5v1.5h-1.5zM417.5 256.26h1.5v1.5h-1.5zM406.12 256.59h1.5v1.5h-1.5zM419.42 256.67h1.5v1.5h-1.5zM412.18 263.58h1.5v1.5h-1.5zM414.21 263.77h1.5v1.5h-1.5zM410.48 263.72h1.5v1.5h-1.5zM415.97 263.89h1.5v1.5h-1.5zM408.16 264.1h1.5v1.5h-1.5zM417.5 263.62h1.5v1.5h-1.5zM411.99 258.79h1.5v1.5h-1.5zM414 258.03h1.5v1.5h-1.5zM410.08 258.55h1.5v1.5h-1.5zM416.09 258.1h1.5v1.5h-1.5zM408.47 258.35h1.5v1.5h-1.5zM417.81 258.38h1.5v1.5h-1.5zM412.06 282.29h1.5v1.5h-1.5zM414.25 282.23h1.5v1.5h-1.5zM411.29 273.03h1.5v1.5h-1.5zM412.83 272.43h1.5v1.5h-1.5zM409.45 273.01h1.5v1.5h-1.5zM415.03 272.68h1.5v1.5h-1.5zM407.21 273.23h1.5v1.5h-1.5zM416.87 272.42h1.5v1.5h-1.5zM405.35 272.71h1.5v1.5h-1.5zM418.49 273.28h1.5v1.5h-1.5zM403.79 273.13h1.5v1.5h-1.5zM420.35 272.78h1.5v1.5h-1.5zM401.42 273.05h1.5v1.5h-1.5zM422.74 273.11h1.5v1.5h-1.5zM399.93 272.51h1.5v1.5h-1.5zM424.16 272.48h1.5v1.5h-1.5zM398.06 273.15h1.5v1.5h-1.5zM426.36 272.61h1.5v1.5h-1.5zM396.16 272.51h1.5v1.5h-1.5zM411.99 247.2h1.5v1.5h-1.5zM414.29 247.57h1.5v1.5h-1.5zM411.31 267.72h1.5v1.5h-1.5zM413.1 267.89h1.5v1.5h-1.5zM409.41 267.83h1.5v1.5h-1.5zM415.23 267.07h1.5v1.5h-1.5zM407.5 267.2h1.5v1.5h-1.5zM411.04 251.11h1.5v1.5h-1.5zM412.39 279.65h1.5v1.5h-1.5zM413.96 279.72h1.5v1.5h-1.5zM410.5 280.05h1.5v1.5h-1.5zM416.02 280.07h1.5v1.5h-1.5zM412.26 261.9h1.5v1.5h-1.5zM413.95 262.27h1.5v1.5h-1.5zM410.32 262.4h1.5v1.5h-1.5zM415.79 262.36h1.5v1.5h-1.5zM408.44 262.12h1.5v1.5h-1.5zM417.74 262.11h1.5v1.5h-1.5zM411.85 254.49h1.5v1.5h-1.5zM413.89 254.51h1.5v1.5h-1.5zM411.83 285.65h1.5v1.5h-1.5zM414.14 285.55h1.5v1.5h-1.5zM410.02 285.65h1.5v1.5h-1.5zM416.1 285.56h1.5v1.5h-1.5zM410.99 249.51h1.5v1.5h-1.5zM412.99 249.24h1.5v1.5h-1.5zM409.04 249.78h1.5v1.5h-1.5zM411.23 253.44h1.5v1.5h-1.5zM410.95 245.64h1.5v1.5h-1.5zM411.16 290.45h1.5v1.5h-1.5zM411.03 287.29h1.5v1.5h-1.5zM411.14 302.02h1.5v1.5h-1.5zM411.2 316.17h1.5v1.5h-1.5z"/>
<rect x="403.5" y="261.5" width="17" height="12" fill="#fdca80" stroke="#303030" stroke-width="1"/>
<line x1="403.5" y1="267.5" x2="420.5" y2="267.5" stroke="#2a2a2a" stroke-width="1"/>
<line x1="434" y1="234" x2="434" y2="264" stroke="#333" stroke-width="1"/>
<path fill="#1a6b5a" d="M433.12 233.38h1.5v1.5h-1.5zM433.33 263.87h1.5v1.5h-1.5zM434.41 249.68h1.5v1.5h-1.5zM435.93 249.48h1.5v1.5h-1.5zM432.1 249.22h1.5v1.5h-1.5zM437.79 249.07h1.5v1.5h-1.5zM430.31 249.8h1.5v1.5h-1.5zM439.99 249.08h1.5v1.5h-1.5zM434.03 253.13h1.5v1.5h-1.5zM436.12 252.62h1.5v1.5h-1.5zM433.96 240.51h1.5v1.5h-1.5zM436.16 240.07h1.5v1.5h-1.5zM432.46 240.22h1.5v1.5h-1.5zM438.05 240.48h1.5v1.5h-1.5zM433.15 244.45h1.5v1.5h-1.5zM434.14 258.38h1.5v1.5h-1.5zM436.12 258.76h1.5v1.5h-1.5zM433.54 251.49h1.5v1.5h-1.5zM435.17 251.45h1.5v1.5h-1.5zM431.43 251.66h1.5v1.5h-1.5zM437.33 251.48h1.5v1.5h-1.5zM429.28 251.31h1.5v1.5h-1.5zM433.21 247.41h1.5v1.5h-1.5zM433.42 238.4h1.5v1.5h-1.5zM435.28 238.64h1.5v1.5h-1.5zM431.31 238.84h1.5v1.5h-1.5zM433.38 237.29h1.5v1.5h-1.5zM433.55 256.92h1.5v1.5h-1.5zM433.11 246h1.5v1.5h-1.5zM433.25 242.65h1.5v1.5h-1.5zM433.22 225.92h1.5v1.5h-1.5zM432.97 278.22h1.5v1.5h-1.5z"/>
<rect x="425.5" y="242.5" width="17" height="10" fill="#7fb5a5" stroke="#303030" stroke-width="1"/>
<line x1="425.5" y1="249.5" x2="442.5" y2="249.5" stroke="#2a2a2a" stroke-width="1"/>
<line x1="456" y1="242.4" x2="456" y2="278" stroke="#333" stroke-width="1"/>
<path fill="#8a80d0" d="M455.01 242.04h1.5v1.5h-1.5zM455.5 276.65h1.5v1.5h-1.5zM456.21 262.15h1.5v1.5h-1.5zM458.32 262.46h1.5v1.5h-1.5zM456.26 265.25h1.5v1.5h-1.5zM458.32 265.35h1.5v1.5h-1.5zM454.14 265.32h1.5v1.5h-1.5zM460.01 265.72h1.5v1.5h-1.5zM455.23 253.02h1.5v1.5h-1.5zM456.93 253.25h1.5v1.5h-1.5zM453.37 252.88h1.5v1.5h-1.5zM459.25 253.45h1.5v1.5h-1.5zM451.7 253.49h1.5v1.5h-1.5zM460.69 252.95h1.5v1.5h-1.5zM449.52 252.83h1.5v1.5h-1.5zM455.4 260.61h1.5v1.5h-1.5zM456.93 260.26h1.5v1.5h-1.5zM453.63 260.6h1.5v1.5h-1.5zM455.22 250.89h1.5v1.5h-1.5zM457.12 251.27h1.5v1.5h-1.5zM453.52 250.97h1.5v1.5h-1.5zM455.12 258.89h1.5v1.5h-1.5zM456.86 258.55h1.5v1.5h-1.5zM453.11 258.68h1.5v1.5h-1.5zM455.2 249.83h1.5v1.5h-1.5zM455.08 267.79h1.5v1.5h-1.5zM456.04 256.24h1.5v1.5h-1.5zM457.85 256.27h1.5v1.5h-1.5zM456.13 269.67h1.5v1.5h-1.5zM458.01 269.45h1.5v1.5h-1.5zM454.97 263.86h1.5v1.5h-1.5zM456.22 254.49h1.5v1.5h-1.5zM458.15 254.8h1.5v1.5h-1.5zM455.15 246.15h1.5v1.5h-1.5zM455.36 274.31h1.5v1.5h-1.5zM455.01 281.45h1.5v1.5h-1.5z"/>
<rect x="447.5" y="254.5" width="17" height="10" fill="#c8c3e6" stroke="#303030" stroke-width="1"/>
<line x1="447.5" y1="259.5" x2="464.5" y2="259.5" stroke="#2a2a2a" stroke-width="1"/>
<line x1="478" y1="245" x2="478" y2="289" stroke="#333" stroke-width="1"/>
<path fill="#3a4658" d="M477.33 244.12h1.5v1.5h-1.5zM477.5 289.1h1.5v1.5h-1.5zM477.5 267.42h1.5v1.5h-1.5zM478.21 249.25h1.5v1.5h-1.5zM480.08 249.84h1.5v1.5h-1.5zM477.24 261.6h1.5v1.5h-1.5zM479.06 261.78h1.5v1.5h-1.5zM475.42 262.06h1.5v1.5h-1.5zM481.04 262.43h1.5v1.5h-1.5zM473.61 261.68h1.5v1.5h-1.5zM482.67 262.23h1.5v1.5h-1.5zM471.61 262.19h1.5v1.5h-1.5zM484.85 261.63h1.5v1.5h-1.5zM469.62 262.35h1.5v1.5h-1.5zM478.26 277.84h1.5v1.5h-1.5zM479.87 278.61h1.5v1.5h-1.5zM477.28 274.35h1.5v1.5h-1.5zM479.27 275.03h1.5v1.5h-1.5zM475.57 274.78h1.5v1.5h-1.5zM481.23 274.28h1.5v1.5h-1.5zM473.43 274.93h1.5v1.5h-1.5zM482.85 274.33h1.5v1.5h-1.5zM471.77 274.83h1.5v1.5h-1.5zM476.95 259.86h1.5v1.5h-1.5zM479.18 260.66h1.5v1.5h-1.5zM475.42 260.59h1.5v1.5h-1.5zM477.01 280.12h1.5v1.5h-1.5zM477.06 258.3h1.5v1.5h-1.5zM477.99 265.62h1.5v1.5h-1.5zM479.83 265.79h1.5v1.5h-1.5zM478.29 264.21h1.5v1.5h-1.5zM480.26 263.47h1.5v1.5h-1.5zM477.47 276.49h1.5v1.5h-1.5zM478.46 272.84h1.5v1.5h-1.5zM479.85 273.03h1.5v1.5h-1.5zM478 269.69h1.5v1.5h-1.5zM480.12 269.61h1.5v1.5h-1.5zM477.25 256.49h1.5v1.5h-1.5zM477.35 271.24h1.5v1.5h-1.5zM477.23 254.65h1.5v1.5h-1.5zM477.2 301.84h1.5v1.5h-1.5z"/>
<rect x="469.5" y="262.5" width="17" height="11" fill="#a0a4a8" stroke="#303030" stroke-width="1"/>
<line x1="469.5" y1="267.5" x2="486.5" y2="267.5" stroke="#2a2a2a" stroke-width="1"/>
<line x1="500" y1="245" x2="500" y2="283" stroke="#333" stroke-width="1"/>
<path fill="#2aaae6" d="M498.99 244.05h1.5v1.5h-1.5zM500.47 282.09h1.5v1.5h-1.5zM502.02 281.65h1.5v1.5h-1.5zM500.46 263.45h1.5v1.5h-1.5zM502.31 264.17h1.5v1.5h-1.5zM499.94 249.86h1.5v1.5h-1.5zM502.19 249.35h1.5v1.5h-1.5zM499.21 254.95h1.5v1.5h-1.5zM501.17 255.18h1.5v1.5h-1.5zM497.59 254.69h1.5v1.5h-1.5zM502.76 255.1h1.5v1.5h-1.5zM495.54 254.99h1.5v1.5h-1.5zM499.94 247.27h1.5v1.5h-1.5zM502.34 247.53h1.5v1.5h-1.5zM499.23 271.48h1.5v1.5h-1.5zM500.02 267.57h1.5v1.5h-1.5zM501.84 267.51h1.5v1.5h-1.5zM500.34 261.74h1.5v1.5h-1.5zM502.26 262.47h1.5v1.5h-1.5zM500.4 260.51h1.5v1.5h-1.5zM502.37 260.45h1.5v1.5h-1.5zM499.28 256.94h1.5v1.5h-1.5zM501.33 256.77h1.5v1.5h-1.5zM497.45 256.36h1.5v1.5h-1.5zM500.1 252.89h1.5v1.5h-1.5zM502.32 253.3h1.5v1.5h-1.5zM498.17 253.49h1.5v1.5h-1.5zM503.74 252.66h1.5v1.5h-1.5zM500.1 268.87h1.5v1.5h-1.5zM502.37 269.12h1.5v1.5h-1.5zM499.18 258.77h1.5v1.5h-1.5zM501.17 258.57h1.5v1.5h-1.5zM497.31 258.41h1.5v1.5h-1.5zM499.52 278.05h1.5v1.5h-1.5zM499.27 272.83h1.5v1.5h-1.5zM499.03 308.53h1.5v1.5h-1.5z"/>
<rect x="491.5" y="256.5" width="17" height="12" fill="#95d8f2" stroke="#303030" stroke-width="1"/>
<line x1="491.5" y1="261.5" x2="508.5" y2="261.5" stroke="#2a2a2a" stroke-width="1"/>
<path d="M310.4 207.4 V332.4 H513.4" fill="none" stroke="#333" stroke-width="1.5"/>
<line x1="307.4" y1="238" x2="310.4" y2="238" stroke="#333" stroke-width="1.1"/>
<text x="304.9" y="240.4" text-anchor="end" class="t">10000</text>
<line x1="307.4" y1="270.4" x2="310.4" y2="270.4" stroke="#333" stroke-width="1.1"/>
<text x="304.9" y="272.8" text-anchor="end" class="t">3000</text>
<line x1="307.4" y1="300.4" x2="310.4" y2="300.4" stroke="#333" stroke-width="1.1"/>
<text x="304.9" y="302.8" text-anchor="end" class="t">1000</text>
<line x1="307.4" y1="332.4" x2="310.4" y2="332.4" stroke="#333" stroke-width="1.1"/>
<text x="304.9" y="334.8" text-anchor="end" class="t">300</text>
<line x1="323.6" y1="332.4" x2="323.6" y2="335.4" stroke="#333" stroke-width="1.1"/>
<line x1="345.6" y1="332.4" x2="345.6" y2="335.4" stroke="#333" stroke-width="1.1"/>
<line x1="367.6" y1="332.4" x2="367.6" y2="335.4" stroke="#333" stroke-width="1.1"/>
<line x1="389.8" y1="332.4" x2="389.8" y2="335.4" stroke="#333" stroke-width="1.1"/>
<line x1="412" y1="332.4" x2="412" y2="335.4" stroke="#333" stroke-width="1.1"/>
<line x1="434" y1="332.4" x2="434" y2="335.4" stroke="#333" stroke-width="1.1"/>
<line x1="456" y1="332.4" x2="456" y2="335.4" stroke="#333" stroke-width="1.1"/>
<line x1="478" y1="332.4" x2="478" y2="335.4" stroke="#333" stroke-width="1.1"/>
<line x1="500" y1="332.4" x2="500" y2="335.4" stroke="#333" stroke-width="1.1"/>
<text transform="translate(325.9,340.7) rotate(-45)" text-anchor="end" class="x">BL</text>
<text transform="translate(348,340.7) rotate(-45)" text-anchor="end" class="x">CD10<tspan dx="0.3" dy="-2.7" font-size="5.6">–</tspan><tspan dy="2.9"> DLBCL</tspan></text>
<text transform="translate(370.1,340.7) rotate(-45)" text-anchor="end" class="x">CD10<tspan dx="0.3" dy="-2.7" font-size="5.6">+</tspan><tspan dy="2.9"> DLBCL</tspan></text>
<text transform="translate(392.1,340.7) rotate(-45)" text-anchor="end" class="x">CLL</text>
<text transform="translate(414.1,340.7) rotate(-45)" text-anchor="end" class="x">FL</text>
<text transform="translate(436.2,340.7) rotate(-45)" text-anchor="end" class="x">HCL</text>
<text transform="translate(458.2,340.7) rotate(-45)" text-anchor="end" class="x">LPL</text>
<text transform="translate(480.2,340.7) rotate(-45)" text-anchor="end" class="x">MCL</text>
<text transform="translate(502.2,340.7) rotate(-45)" text-anchor="end" class="x">MZL</text>
<text x="323.7" y="209.2" text-anchor="middle" class="n">2501</text>
<text x="323.7" y="217.7" text-anchor="middle" class="h" stroke="#333" stroke-width="0.5">#</text>
<text x="345.8" y="209.2" text-anchor="middle" class="n">4193</text>
<circle cx="344.5" cy="213.9" r="1.05" fill="#2a2a2a"/>
<circle cx="347.1" cy="213.9" r="1.05" fill="#2a2a2a"/>
<text x="367.9" y="209.2" text-anchor="middle" class="n">4028</text>
<circle cx="367.9" cy="213.9" r="1.05" fill="#2a2a2a"/>
<text x="389.9" y="209.2" text-anchor="middle" class="n">2796</text>
<text x="411.9" y="209.2" text-anchor="middle" class="n">3593</text>
<circle cx="411.9" cy="213.9" r="1.05" fill="#2a2a2a"/>
<text x="434" y="209.2" text-anchor="middle" class="n">6681</text>
<circle cx="431.4" cy="213.9" r="1.05" fill="#2a2a2a"/>
<circle cx="434" cy="213.9" r="1.05" fill="#2a2a2a"/>
<circle cx="436.6" cy="213.9" r="1.05" fill="#2a2a2a"/>
<text x="456" y="209.2" text-anchor="middle" class="n">4534</text>
<circle cx="453.4" cy="213.9" r="1.05" fill="#2a2a2a"/>
<circle cx="456" cy="213.9" r="1.05" fill="#2a2a2a"/>
<circle cx="458.6" cy="213.9" r="1.05" fill="#2a2a2a"/>
<text x="478" y="209.2" text-anchor="middle" class="n">3397</text>
<text x="500" y="209.2" text-anchor="middle" class="n">4239</text>
<circle cx="498.7" cy="213.9" r="1.05" fill="#2a2a2a"/>
<circle cx="501.3" cy="213.9" r="1.05" fill="#2a2a2a"/>
<text x="315.8" y="328.5" text-anchor="start" class="l">CD45</text>
<line x1="47" y1="441" x2="47" y2="473.4" stroke="#333" stroke-width="1"/>
<path fill="#e01a40" d="M46.3 440.03h1.5v1.5h-1.5zM47.39 472.81h1.5v1.5h-1.5zM49.06 472.75h1.5v1.5h-1.5zM46.34 463.6h1.5v1.5h-1.5zM47.9 463.53h1.5v1.5h-1.5zM44.62 463.54h1.5v1.5h-1.5zM50.13 463.28h1.5v1.5h-1.5zM42.61 463.98h1.5v1.5h-1.5zM47.12 456.33h1.5v1.5h-1.5zM49.11 456.23h1.5v1.5h-1.5zM45.13 456.12h1.5v1.5h-1.5zM51.11 456.46h1.5v1.5h-1.5zM46.52 442.47h1.5v1.5h-1.5zM46.47 458.65h1.5v1.5h-1.5zM48.35 457.82h1.5v1.5h-1.5zM44.13 458.68h1.5v1.5h-1.5zM46.47 467.35h1.5v1.5h-1.5zM46.32 449.19h1.5v1.5h-1.5zM46.2 461.53h1.5v1.5h-1.5zM48.18 461.65h1.5v1.5h-1.5zM44.12 462.18h1.5v1.5h-1.5zM46.29 454.99h1.5v1.5h-1.5zM46.13 451.12h1.5v1.5h-1.5zM48.02 451.35h1.5v1.5h-1.5zM44.18 451.18h1.5v1.5h-1.5zM46.28 443.69h1.5v1.5h-1.5zM46 445.64h1.5v1.5h-1.5zM46.26 460.34h1.5v1.5h-1.5z"/>
<rect x="38.5" y="452.5" width="17" height="12" fill="#e18a97" stroke="#303030" stroke-width="1"/>
<line x1="38.5" y1="460.5" x2="55.5" y2="460.5" stroke="#2a2a2a" stroke-width="1"/>
<line x1="69.5" y1="432" x2="69.5" y2="501.4" stroke="#333" stroke-width="1"/>
<path fill="#1f5b99" d="M68.77 431.22h1.5v1.5h-1.5zM68.7 501.62h1.5v1.5h-1.5zM68.52 465.62h1.5v1.5h-1.5zM69.01 474.69h1.5v1.5h-1.5zM70.68 474.32h1.5v1.5h-1.5zM66.61 474.08h1.5v1.5h-1.5zM69.72 458.59h1.5v1.5h-1.5zM71.82 457.97h1.5v1.5h-1.5zM67.95 458.53h1.5v1.5h-1.5zM73.49 458.57h1.5v1.5h-1.5zM68.56 472.5h1.5v1.5h-1.5zM70.66 472.85h1.5v1.5h-1.5zM66.82 472.47h1.5v1.5h-1.5zM68.97 443.75h1.5v1.5h-1.5zM68.7 495.8h1.5v1.5h-1.5zM69.69 469.24h1.5v1.5h-1.5zM71.52 469.2h1.5v1.5h-1.5zM68.75 477.61h1.5v1.5h-1.5zM69.03 470.66h1.5v1.5h-1.5zM68.78 460.46h1.5v1.5h-1.5zM68.57 463.26h1.5v1.5h-1.5zM70.47 463.34h1.5v1.5h-1.5zM67.06 463.67h1.5v1.5h-1.5zM68.48 452.64h1.5v1.5h-1.5zM70.66 452.56h1.5v1.5h-1.5zM66.73 453.21h1.5v1.5h-1.5zM72.52 452.61h1.5v1.5h-1.5zM65.01 452.5h1.5v1.5h-1.5zM69.71 436.78h1.5v1.5h-1.5zM71.35 436.69h1.5v1.5h-1.5zM68.64 440.47h1.5v1.5h-1.5zM68.82 494.62h1.5v1.5h-1.5zM68.81 456.16h1.5v1.5h-1.5zM69.51 442.23h1.5v1.5h-1.5zM71.79 441.66h1.5v1.5h-1.5zM68.7 483.25h1.5v1.5h-1.5zM68.73 498.19h1.5v1.5h-1.5zM68.79 454.87h1.5v1.5h-1.5zM69.86 450.85h1.5v1.5h-1.5zM71.67 450.94h1.5v1.5h-1.5zM68.73 445.68h1.5v1.5h-1.5zM68.85 479.55h1.5v1.5h-1.5zM70.85 479.54h1.5v1.5h-1.5zM66.74 480.16h1.5v1.5h-1.5zM69.04 461.73h1.5v1.5h-1.5zM69.02 508.23h1.5v1.5h-1.5z"/>
<rect x="61.5" y="453.5" width="17" height="19" fill="#87a7c8" stroke="#303030" stroke-width="1"/>
<line x1="61.5" y1="460.5" x2="78.5" y2="460.5" stroke="#2a2a2a" stroke-width="1"/>
<line x1="91.5" y1="439.4" x2="91.5" y2="488" stroke="#333" stroke-width="1"/>
<path fill="#2bb52b" d="M90.94 438.8h1.5v1.5h-1.5zM90.63 487.24h1.5v1.5h-1.5zM91.92 456.79h1.5v1.5h-1.5zM93.34 456.75h1.5v1.5h-1.5zM89.65 456.72h1.5v1.5h-1.5zM95.61 456.42h1.5v1.5h-1.5zM90.99 460.32h1.5v1.5h-1.5zM92.95 460.46h1.5v1.5h-1.5zM88.89 460.26h1.5v1.5h-1.5zM94.65 459.96h1.5v1.5h-1.5zM86.95 460.06h1.5v1.5h-1.5zM96.28 459.83h1.5v1.5h-1.5zM85.26 460.36h1.5v1.5h-1.5zM90.87 465.62h1.5v1.5h-1.5zM92.66 465.52h1.5v1.5h-1.5zM88.95 465.01h1.5v1.5h-1.5zM90.72 485.67h1.5v1.5h-1.5zM91.52 476.22h1.5v1.5h-1.5zM93.35 476.03h1.5v1.5h-1.5zM89.99 475.83h1.5v1.5h-1.5zM95.68 476.52h1.5v1.5h-1.5zM90.97 479.63h1.5v1.5h-1.5zM91.01 470.73h1.5v1.5h-1.5zM91.67 458.66h1.5v1.5h-1.5zM93.63 458.41h1.5v1.5h-1.5zM89.57 457.8h1.5v1.5h-1.5zM95.36 457.9h1.5v1.5h-1.5zM90.94 467.02h1.5v1.5h-1.5zM91.02 462.01h1.5v1.5h-1.5zM92.47 462.04h1.5v1.5h-1.5zM88.74 461.87h1.5v1.5h-1.5zM90.5 451.35h1.5v1.5h-1.5zM90.92 454.72h1.5v1.5h-1.5zM91.81 474.31h1.5v1.5h-1.5zM93.38 474.29h1.5v1.5h-1.5zM90.89 514.11h1.5v1.5h-1.5z"/>
<rect x="83.5" y="458.5" width="17" height="17" fill="#9ddba0" stroke="#303030" stroke-width="1"/>
<line x1="83.5" y1="465.5" x2="100.5" y2="465.5" stroke="#2a2a2a" stroke-width="1"/>
<line x1="114.1" y1="439.6" x2="114.1" y2="498" stroke="#333" stroke-width="1"/>
<path fill="#5b2c83" d="M113.46 438.18h1.5v1.5h-1.5zM113.08 497.98h1.5v1.5h-1.5zM113.47 459.61h1.5v1.5h-1.5zM115.45 460.41h1.5v1.5h-1.5zM111.37 460.07h1.5v1.5h-1.5zM117.24 460.43h1.5v1.5h-1.5zM109.64 460.06h1.5v1.5h-1.5zM119.21 460.04h1.5v1.5h-1.5zM107.37 460.09h1.5v1.5h-1.5zM120.9 459.9h1.5v1.5h-1.5zM105.69 459.8h1.5v1.5h-1.5zM113.24 472.87h1.5v1.5h-1.5zM115.48 472.61h1.5v1.5h-1.5zM111.66 472.31h1.5v1.5h-1.5zM114.31 469.27h1.5v1.5h-1.5zM116.37 468.95h1.5v1.5h-1.5zM112.2 469.46h1.5v1.5h-1.5zM118.17 469.19h1.5v1.5h-1.5zM110.41 468.7h1.5v1.5h-1.5zM120.04 468.96h1.5v1.5h-1.5zM108.83 469.2h1.5v1.5h-1.5zM122.05 469.11h1.5v1.5h-1.5zM106.85 468.72h1.5v1.5h-1.5zM124.1 469.12h1.5v1.5h-1.5zM114.36 479.57h1.5v1.5h-1.5zM115.95 480.03h1.5v1.5h-1.5zM112.54 480h1.5v1.5h-1.5zM117.95 479.84h1.5v1.5h-1.5zM110.66 479.98h1.5v1.5h-1.5zM120.25 479.48h1.5v1.5h-1.5zM114.46 483.01h1.5v1.5h-1.5zM116.28 483.48h1.5v1.5h-1.5zM112.14 483.38h1.5v1.5h-1.5zM118.2 483.78h1.5v1.5h-1.5zM113.1 458.26h1.5v1.5h-1.5zM115.43 457.91h1.5v1.5h-1.5zM111.69 458.64h1.5v1.5h-1.5zM117.06 457.99h1.5v1.5h-1.5zM109.34 458h1.5v1.5h-1.5zM119 458.44h1.5v1.5h-1.5zM107.91 458.3h1.5v1.5h-1.5zM113.62 477.98h1.5v1.5h-1.5zM115.34 477.6h1.5v1.5h-1.5zM111.4 477.62h1.5v1.5h-1.5zM114.08 454.93h1.5v1.5h-1.5zM115.97 454.47h1.5v1.5h-1.5zM112.42 454.67h1.5v1.5h-1.5zM117.82 454.3h1.5v1.5h-1.5zM114.41 467.16h1.5v1.5h-1.5zM115.96 467.23h1.5v1.5h-1.5zM112.32 467.7h1.5v1.5h-1.5zM117.83 466.96h1.5v1.5h-1.5zM110.24 467.3h1.5v1.5h-1.5zM120.28 467.5h1.5v1.5h-1.5zM114.07 481.69h1.5v1.5h-1.5zM116.11 482.08h1.5v1.5h-1.5zM113.47 465.54h1.5v1.5h-1.5zM115.1 465.39h1.5v1.5h-1.5zM111.47 465.34h1.5v1.5h-1.5zM117.19 465.08h1.5v1.5h-1.5zM109.5 465.89h1.5v1.5h-1.5zM118.99 465.46h1.5v1.5h-1.5zM107.8 465.73h1.5v1.5h-1.5zM113.49 445.54h1.5v1.5h-1.5zM115.38 445.38h1.5v1.5h-1.5zM111.52 445.21h1.5v1.5h-1.5zM114.12 470.56h1.5v1.5h-1.5zM116.11 471.06h1.5v1.5h-1.5zM112.11 471.19h1.5v1.5h-1.5zM117.86 471.26h1.5v1.5h-1.5zM110.77 470.95h1.5v1.5h-1.5zM120.2 471.25h1.5v1.5h-1.5zM114.27 474.77h1.5v1.5h-1.5zM115.92 474.7h1.5v1.5h-1.5zM112.49 474.7h1.5v1.5h-1.5zM117.89 474.07h1.5v1.5h-1.5zM113.36 456.55h1.5v1.5h-1.5zM113.46 495.76h1.5v1.5h-1.5zM113.39 462.27h1.5v1.5h-1.5zM113.2 442.34h1.5v1.5h-1.5zM115.53 442.21h1.5v1.5h-1.5zM111.41 441.98h1.5v1.5h-1.5zM114.28 452.51h1.5v1.5h-1.5zM115.94 452.65h1.5v1.5h-1.5zM114.1 494.61h1.5v1.5h-1.5zM116.12 494.59h1.5v1.5h-1.5zM114.34 485.61h1.5v1.5h-1.5zM116.44 485.44h1.5v1.5h-1.5zM113.32 443.62h1.5v1.5h-1.5zM114.34 463.48h1.5v1.5h-1.5zM116.4 463.24h1.5v1.5h-1.5zM113.43 476.11h1.5v1.5h-1.5zM115.2 476.29h1.5v1.5h-1.5zM111.74 476.69h1.5v1.5h-1.5zM117.06 476.66h1.5v1.5h-1.5zM109.82 476.27h1.5v1.5h-1.5zM113.39 490.38h1.5v1.5h-1.5zM113.52 488.84h1.5v1.5h-1.5zM113.51 447.83h1.5v1.5h-1.5zM113.42 492.63h1.5v1.5h-1.5zM113.38 506.52h1.5v1.5h-1.5zM113.33 511.86h1.5v1.5h-1.5z"/>
<rect x="105.5" y="461.5" width="17" height="17" fill="#a890bf" stroke="#303030" stroke-width="1"/>
<line x1="105.5" y1="470.5" x2="122.5" y2="470.5" stroke="#2a2a2a" stroke-width="1"/>
<line x1="136.1" y1="437.6" x2="136.1" y2="492" stroke="#333" stroke-width="1"/>
<path fill="#ff9a0a" d="M135.58 436.26h1.5v1.5h-1.5zM136.02 490.3h1.5v1.5h-1.5zM138.09 490.32h1.5v1.5h-1.5zM136.26 445.53h1.5v1.5h-1.5zM138.34 446.07h1.5v1.5h-1.5zM134.69 445.58h1.5v1.5h-1.5zM140.19 445.32h1.5v1.5h-1.5zM135.42 455h1.5v1.5h-1.5zM137.48 454.33h1.5v1.5h-1.5zM133.25 455.01h1.5v1.5h-1.5zM139.27 454.89h1.5v1.5h-1.5zM131.29 454.76h1.5v1.5h-1.5zM140.76 454.86h1.5v1.5h-1.5zM129.83 454.49h1.5v1.5h-1.5zM136 480.06h1.5v1.5h-1.5zM138.5 479.96h1.5v1.5h-1.5zM135.27 468.9h1.5v1.5h-1.5zM137.44 469.47h1.5v1.5h-1.5zM133.37 468.8h1.5v1.5h-1.5zM139.45 468.98h1.5v1.5h-1.5zM131.52 468.88h1.5v1.5h-1.5zM135.48 474.88h1.5v1.5h-1.5zM137.23 474.77h1.5v1.5h-1.5zM133.39 474.38h1.5v1.5h-1.5zM139.33 474.87h1.5v1.5h-1.5zM131.7 474.63h1.5v1.5h-1.5zM141.25 474.83h1.5v1.5h-1.5zM129.92 474.48h1.5v1.5h-1.5zM136.23 450.61h1.5v1.5h-1.5zM138.22 450.92h1.5v1.5h-1.5zM134.1 451.49h1.5v1.5h-1.5zM139.98 451.44h1.5v1.5h-1.5zM132.21 450.92h1.5v1.5h-1.5zM142.17 451.21h1.5v1.5h-1.5zM135.45 443.84h1.5v1.5h-1.5zM137 444.15h1.5v1.5h-1.5zM133.61 443.83h1.5v1.5h-1.5zM136.34 471.12h1.5v1.5h-1.5zM138.2 470.83h1.5v1.5h-1.5zM134.39 471.06h1.5v1.5h-1.5zM140.24 470.7h1.5v1.5h-1.5zM136.47 467.14h1.5v1.5h-1.5zM138.3 467.14h1.5v1.5h-1.5zM134.64 467.65h1.5v1.5h-1.5zM140.27 467.14h1.5v1.5h-1.5zM136.21 458.19h1.5v1.5h-1.5zM138.26 457.83h1.5v1.5h-1.5zM134.43 458.64h1.5v1.5h-1.5zM139.84 458.6h1.5v1.5h-1.5zM132.54 458.7h1.5v1.5h-1.5zM142.13 458.45h1.5v1.5h-1.5zM135.5 452.78h1.5v1.5h-1.5zM137.02 453.17h1.5v1.5h-1.5zM133.68 453.05h1.5v1.5h-1.5zM138.98 452.85h1.5v1.5h-1.5zM131.56 452.73h1.5v1.5h-1.5zM141.04 452.81h1.5v1.5h-1.5zM129.94 452.96h1.5v1.5h-1.5zM143.24 453.22h1.5v1.5h-1.5zM127.56 453.09h1.5v1.5h-1.5zM144.78 452.94h1.5v1.5h-1.5zM125.89 453.07h1.5v1.5h-1.5zM135.23 449.41h1.5v1.5h-1.5zM137.17 449.5h1.5v1.5h-1.5zM133.45 449.38h1.5v1.5h-1.5zM139.45 449.05h1.5v1.5h-1.5zM131.25 449.61h1.5v1.5h-1.5zM141.06 449.38h1.5v1.5h-1.5zM129.85 449.6h1.5v1.5h-1.5zM135.28 473.09h1.5v1.5h-1.5zM137.18 472.85h1.5v1.5h-1.5zM133.65 472.53h1.5v1.5h-1.5zM139.1 472.53h1.5v1.5h-1.5zM131.46 472.57h1.5v1.5h-1.5zM141.26 472.25h1.5v1.5h-1.5zM129.94 472.91h1.5v1.5h-1.5zM142.99 472.78h1.5v1.5h-1.5zM127.63 472.89h1.5v1.5h-1.5zM136.52 476.14h1.5v1.5h-1.5zM138.2 476h1.5v1.5h-1.5zM136.15 462.17h1.5v1.5h-1.5zM138.29 461.8h1.5v1.5h-1.5zM134.48 461.57h1.5v1.5h-1.5zM139.8 461.72h1.5v1.5h-1.5zM136.35 484.97h1.5v1.5h-1.5zM138.23 485.09h1.5v1.5h-1.5zM135.21 460.27h1.5v1.5h-1.5zM137.17 460.27h1.5v1.5h-1.5zM133.6 459.94h1.5v1.5h-1.5zM138.87 460.36h1.5v1.5h-1.5zM131.58 460.12h1.5v1.5h-1.5zM135.46 488.89h1.5v1.5h-1.5zM135.59 456.01h1.5v1.5h-1.5zM137.53 456.55h1.5v1.5h-1.5zM133.39 456.82h1.5v1.5h-1.5zM139.39 456.54h1.5v1.5h-1.5zM131.26 456.56h1.5v1.5h-1.5zM135.3 440.32h1.5v1.5h-1.5zM135.55 463.32h1.5v1.5h-1.5zM137.46 463.48h1.5v1.5h-1.5zM133.3 463.23h1.5v1.5h-1.5zM136.06 441.84h1.5v1.5h-1.5zM138.22 442.45h1.5v1.5h-1.5zM135.15 465.26h1.5v1.5h-1.5zM137.17 465.58h1.5v1.5h-1.5zM133.36 465.6h1.5v1.5h-1.5zM135.14 481.24h1.5v1.5h-1.5zM135.4 483.65h1.5v1.5h-1.5zM135.13 477.64h1.5v1.5h-1.5zM135.45 447.06h1.5v1.5h-1.5zM135.61 499.82h1.5v1.5h-1.5zM135.15 504.97h1.5v1.5h-1.5zM135.08 528.08h1.5v1.5h-1.5z"/>
<rect x="127.5" y="456.5" width="17" height="16" fill="#fdca80" stroke="#303030" stroke-width="1"/>
<line x1="127.5" y1="463.5" x2="144.5" y2="463.5" stroke="#2a2a2a" stroke-width="1"/>
<line x1="158.3" y1="427.6" x2="158.3" y2="468.4" stroke="#333" stroke-width="1"/>
<path fill="#1a6b5a" d="M157.3 427.7h1.5v1.5h-1.5zM157.71 466.91h1.5v1.5h-1.5zM158.26 462.02h1.5v1.5h-1.5zM160.38 462.11h1.5v1.5h-1.5zM158.45 435.28h1.5v1.5h-1.5zM160.62 434.69h1.5v1.5h-1.5zM157.57 438.53h1.5v1.5h-1.5zM157.52 429.74h1.5v1.5h-1.5zM157.67 458.54h1.5v1.5h-1.5zM158.35 440.25h1.5v1.5h-1.5zM160.43 440.33h1.5v1.5h-1.5zM157.26 449.53h1.5v1.5h-1.5zM159.42 448.94h1.5v1.5h-1.5zM155.86 449.3h1.5v1.5h-1.5zM158.64 456.67h1.5v1.5h-1.5zM160.47 456.82h1.5v1.5h-1.5zM158.23 445.5h1.5v1.5h-1.5zM160.2 445.77h1.5v1.5h-1.5zM157.38 436.23h1.5v1.5h-1.5zM159.23 436.36h1.5v1.5h-1.5zM155.67 436.61h1.5v1.5h-1.5zM157.53 432.61h1.5v1.5h-1.5zM158.52 441.83h1.5v1.5h-1.5zM160.15 441.65h1.5v1.5h-1.5zM157.34 463.56h1.5v1.5h-1.5zM157.35 454.62h1.5v1.5h-1.5zM159.25 454.86h1.5v1.5h-1.5zM155.88 454.49h1.5v1.5h-1.5zM157.29 451.47h1.5v1.5h-1.5zM157.3 431.38h1.5v1.5h-1.5zM157.7 478.03h1.5v1.5h-1.5zM157.78 493.93h1.5v1.5h-1.5z"/>
<rect x="149.5" y="439.5" width="17" height="14" fill="#7fb5a5" stroke="#303030" stroke-width="1"/>
<line x1="149.5" y1="446.5" x2="166.5" y2="446.5" stroke="#2a2a2a" stroke-width="1"/>
<line x1="180.5" y1="433" x2="180.5" y2="481" stroke="#333" stroke-width="1"/>
<path fill="#8a80d0" d="M180.02 433.4h1.5v1.5h-1.5zM179.9 479.89h1.5v1.5h-1.5zM179.48 452.6h1.5v1.5h-1.5zM180.79 475.91h1.5v1.5h-1.5zM182.69 476.11h1.5v1.5h-1.5zM179.68 451.34h1.5v1.5h-1.5zM181.85 451.27h1.5v1.5h-1.5zM177.82 451.08h1.5v1.5h-1.5zM180.04 460.43h1.5v1.5h-1.5zM180.76 454.27h1.5v1.5h-1.5zM182.84 454.24h1.5v1.5h-1.5zM179.52 442.19h1.5v1.5h-1.5zM179.57 465.68h1.5v1.5h-1.5zM179.86 443.55h1.5v1.5h-1.5zM180 446.1h1.5v1.5h-1.5zM179.84 437.08h1.5v1.5h-1.5zM179.93 447.43h1.5v1.5h-1.5zM179.94 478.44h1.5v1.5h-1.5zM179.87 438.08h1.5v1.5h-1.5zM181.57 438.63h1.5v1.5h-1.5zM177.77 438.15h1.5v1.5h-1.5zM179.72 461.53h1.5v1.5h-1.5zM181.63 461.49h1.5v1.5h-1.5zM177.99 461.59h1.5v1.5h-1.5zM183.81 461.5h1.5v1.5h-1.5zM176.03 461.98h1.5v1.5h-1.5zM179.57 463.76h1.5v1.5h-1.5zM181.68 463.75h1.5v1.5h-1.5zM177.66 463.63h1.5v1.5h-1.5zM179.95 472.76h1.5v1.5h-1.5zM180.55 458.1h1.5v1.5h-1.5zM182.83 457.85h1.5v1.5h-1.5zM179.74 456.46h1.5v1.5h-1.5zM179.71 448.8h1.5v1.5h-1.5zM179.51 469.36h1.5v1.5h-1.5z"/>
<rect x="172.5" y="446.5" width="17" height="15" fill="#c8c3e6" stroke="#303030" stroke-width="1"/>
<line x1="172.5" y1="453.5" x2="189.5" y2="453.5" stroke="#2a2a2a" stroke-width="1"/>
<line x1="202.9" y1="430" x2="202.9" y2="486" stroke="#333" stroke-width="1"/>
<path fill="#3a4658" d="M201.86 429.14h1.5v1.5h-1.5zM203.31 484.92h1.5v1.5h-1.5zM205.06 485.14h1.5v1.5h-1.5zM202.25 454.98h1.5v1.5h-1.5zM204.25 455.07h1.5v1.5h-1.5zM200.53 454.56h1.5v1.5h-1.5zM202.44 467.49h1.5v1.5h-1.5zM203.92 467.1h1.5v1.5h-1.5zM200.26 467.56h1.5v1.5h-1.5zM205.71 467.6h1.5v1.5h-1.5zM198.45 467.33h1.5v1.5h-1.5zM207.79 467.14h1.5v1.5h-1.5zM196.39 467.44h1.5v1.5h-1.5zM202.12 462.04h1.5v1.5h-1.5zM204.28 461.48h1.5v1.5h-1.5zM199.96 462.25h1.5v1.5h-1.5zM201.97 451.33h1.5v1.5h-1.5zM202.09 458h1.5v1.5h-1.5zM203.76 458.19h1.5v1.5h-1.5zM200.31 457.85h1.5v1.5h-1.5zM201.86 447.26h1.5v1.5h-1.5zM202.38 469.28h1.5v1.5h-1.5zM202.95 449.16h1.5v1.5h-1.5zM204.95 449.44h1.5v1.5h-1.5zM202.97 443.72h1.5v1.5h-1.5zM205 443.61h1.5v1.5h-1.5zM201.16 444.07h1.5v1.5h-1.5zM206.9 443.45h1.5v1.5h-1.5zM199.21 443.91h1.5v1.5h-1.5zM208.64 443.75h1.5v1.5h-1.5zM203.14 465.33h1.5v1.5h-1.5zM204.81 465.79h1.5v1.5h-1.5zM201.89 440.62h1.5v1.5h-1.5zM201.91 460.1h1.5v1.5h-1.5zM203.13 456.37h1.5v1.5h-1.5zM205.08 456.8h1.5v1.5h-1.5zM202.04 470.45h1.5v1.5h-1.5zM201.97 463.99h1.5v1.5h-1.5zM202.21 445.88h1.5v1.5h-1.5zM202.08 472.49h1.5v1.5h-1.5z"/>
<rect x="194.5" y="452.5" width="17" height="15" fill="#a0a4a8" stroke="#303030" stroke-width="1"/>
<line x1="194.5" y1="459.5" x2="211.5" y2="459.5" stroke="#2a2a2a" stroke-width="1"/>
<line x1="225" y1="429" x2="225" y2="490" stroke="#333" stroke-width="1"/>
<path fill="#2aaae6" d="M224.36 427.3h1.5v1.5h-1.5zM224.2 489.17h1.5v1.5h-1.5zM224.11 461.88h1.5v1.5h-1.5zM226.06 461.9h1.5v1.5h-1.5zM222.28 461.71h1.5v1.5h-1.5zM224.5 451.22h1.5v1.5h-1.5zM224.55 470.7h1.5v1.5h-1.5zM226.13 470.73h1.5v1.5h-1.5zM222.57 470.73h1.5v1.5h-1.5zM224.36 448.96h1.5v1.5h-1.5zM225.23 467.04h1.5v1.5h-1.5zM227.35 467.13h1.5v1.5h-1.5zM224.52 478.11h1.5v1.5h-1.5zM226.05 478.1h1.5v1.5h-1.5zM222.61 478.22h1.5v1.5h-1.5zM225.39 452.91h1.5v1.5h-1.5zM227.17 452.53h1.5v1.5h-1.5zM223.5 452.98h1.5v1.5h-1.5zM229.09 452.67h1.5v1.5h-1.5zM225.36 481.67h1.5v1.5h-1.5zM226.99 482.09h1.5v1.5h-1.5zM225.36 447.61h1.5v1.5h-1.5zM227.3 447.63h1.5v1.5h-1.5zM225.13 465.86h1.5v1.5h-1.5zM227.34 465.6h1.5v1.5h-1.5zM223.26 465.45h1.5v1.5h-1.5zM228.73 465.8h1.5v1.5h-1.5zM224.45 456.54h1.5v1.5h-1.5zM225.18 444.12h1.5v1.5h-1.5zM226.81 443.76h1.5v1.5h-1.5zM224.1 487.15h1.5v1.5h-1.5zM224.16 476.35h1.5v1.5h-1.5zM224.49 436.57h1.5v1.5h-1.5zM224.02 472.21h1.5v1.5h-1.5zM224.45 445.62h1.5v1.5h-1.5z"/>
<rect x="216.5" y="449.5" width="17" height="17" fill="#95d8f2" stroke="#303030" stroke-width="1"/>
<line x1="216.5" y1="454.5" x2="233.5" y2="454.5" stroke="#2a2a2a" stroke-width="1"/>
<path d="M34 409.4 V535.1 H238" fill="none" stroke="#333" stroke-width="1.5"/>
<line x1="31" y1="450.4" x2="34" y2="450.4" stroke="#333" stroke-width="1.1"/>
<text x="28.5" y="452.8" text-anchor="end" class="t">1000</text>
<line x1="31" y1="485.6" x2="34" y2="485.6" stroke="#333" stroke-width="1.1"/>
<text x="28.5" y="488" text-anchor="end" class="t">100</text>
<line x1="31" y1="520.6" x2="34" y2="520.6" stroke="#333" stroke-width="1.1"/>
<text x="28.5" y="523" text-anchor="end" class="t">10</text>
<line x1="47.3" y1="535.1" x2="47.3" y2="538.1" stroke="#333" stroke-width="1.1"/>
<line x1="68.5" y1="535.1" x2="68.5" y2="538.1" stroke="#333" stroke-width="1.1"/>
<line x1="90.4" y1="535.1" x2="90.4" y2="538.1" stroke="#333" stroke-width="1.1"/>
<line x1="112.7" y1="535.1" x2="112.7" y2="538.1" stroke="#333" stroke-width="1.1"/>
<line x1="135.2" y1="535.1" x2="135.2" y2="538.1" stroke="#333" stroke-width="1.1"/>
<line x1="157.7" y1="535.1" x2="157.7" y2="538.1" stroke="#333" stroke-width="1.1"/>
<line x1="180" y1="535.1" x2="180" y2="538.1" stroke="#333" stroke-width="1.1"/>
<line x1="202.5" y1="535.1" x2="202.5" y2="538.1" stroke="#333" stroke-width="1.1"/>
<line x1="224.6" y1="535.1" x2="224.6" y2="538.1" stroke="#333" stroke-width="1.1"/>
<text transform="translate(49.2,543.4) rotate(-45)" text-anchor="end" class="x">BL</text>
<text transform="translate(71.7,543.4) rotate(-45)" text-anchor="end" class="x">CD10<tspan dx="0.3" dy="-2.7" font-size="5.6">–</tspan><tspan dy="2.9"> DLBCL</tspan></text>
<text transform="translate(93.7,543.4) rotate(-45)" text-anchor="end" class="x">CD10<tspan dx="0.3" dy="-2.7" font-size="5.6">+</tspan><tspan dy="2.9"> DLBCL</tspan></text>
<text transform="translate(116.3,543.4) rotate(-45)" text-anchor="end" class="x">CLL</text>
<text transform="translate(138.3,543.4) rotate(-45)" text-anchor="end" class="x">FL</text>
<text transform="translate(160.5,543.4) rotate(-45)" text-anchor="end" class="x">HCL</text>
<text transform="translate(182.7,543.4) rotate(-45)" text-anchor="end" class="x">LPL</text>
<text transform="translate(205.1,543.4) rotate(-45)" text-anchor="end" class="x">MCL</text>
<text transform="translate(227.2,543.4) rotate(-45)" text-anchor="end" class="x">MZL</text>
<text x="47" y="411.4" text-anchor="middle" class="n">540</text>
<circle cx="45.7" cy="415.9" r="1.05" fill="#2a2a2a"/>
<circle cx="48.3" cy="415.9" r="1.05" fill="#2a2a2a"/>
<text x="69.5" y="411.4" text-anchor="middle" class="n">537</text>
<circle cx="69.5" cy="415.9" r="1.05" fill="#2a2a2a"/>
<text x="91.5" y="411.4" text-anchor="middle" class="n">359</text>
<text x="114.1" y="411.4" text-anchor="middle" class="n">256</text>
<text x="114.1" y="419.7" text-anchor="middle" class="h" stroke="#333" stroke-width="0.5">#</text>
<text x="136.1" y="411.4" text-anchor="middle" class="n">424</text>
<circle cx="136.1" cy="415.9" r="1.05" fill="#2a2a2a"/>
<text x="158.3" y="411.4" text-anchor="middle" class="n">1354</text>
<circle cx="155.7" cy="415.9" r="1.05" fill="#2a2a2a"/>
<circle cx="158.3" cy="415.9" r="1.05" fill="#2a2a2a"/>
<circle cx="160.9" cy="415.9" r="1.05" fill="#2a2a2a"/>
<text x="180.5" y="411.4" text-anchor="middle" class="n">856</text>
<circle cx="177.9" cy="415.9" r="1.05" fill="#2a2a2a"/>
<circle cx="180.5" cy="415.9" r="1.05" fill="#2a2a2a"/>
<circle cx="183.1" cy="415.9" r="1.05" fill="#2a2a2a"/>
<text x="202.9" y="411.4" text-anchor="middle" class="n">574</text>
<circle cx="200.3" cy="415.9" r="1.05" fill="#2a2a2a"/>
<circle cx="202.9" cy="415.9" r="1.05" fill="#2a2a2a"/>
<circle cx="205.5" cy="415.9" r="1.05" fill="#2a2a2a"/>
<text x="225" y="411.4" text-anchor="middle" class="n">804</text>
<circle cx="222.4" cy="415.9" r="1.05" fill="#2a2a2a"/>
<circle cx="225" cy="415.9" r="1.05" fill="#2a2a2a"/>
<circle cx="227.6" cy="415.9" r="1.05" fill="#2a2a2a"/>
<text x="38.8" y="530.5" text-anchor="start" class="l">CD49d</text>
<line x1="323.7" y1="466" x2="323.7" y2="495" stroke="#333" stroke-width="1"/>
<path fill="#e01a40" d="M322.76 465.65h1.5v1.5h-1.5zM322.88 494.43h1.5v1.5h-1.5zM324.02 483.37h1.5v1.5h-1.5zM326.07 483.39h1.5v1.5h-1.5zM322.93 474.64h1.5v1.5h-1.5zM324.64 474.81h1.5v1.5h-1.5zM320.95 474.8h1.5v1.5h-1.5zM323.69 477.71h1.5v1.5h-1.5zM325.85 477.82h1.5v1.5h-1.5zM321.96 477.78h1.5v1.5h-1.5zM327.83 478.26h1.5v1.5h-1.5zM324.01 479.52h1.5v1.5h-1.5zM325.53 479.92h1.5v1.5h-1.5zM321.75 480.04h1.5v1.5h-1.5zM327.73 480.24h1.5v1.5h-1.5zM320.29 479.99h1.5v1.5h-1.5zM329.8 479.86h1.5v1.5h-1.5zM323.77 484.86h1.5v1.5h-1.5zM325.92 485.4h1.5v1.5h-1.5zM323.03 470.86h1.5v1.5h-1.5zM322.92 489.23h1.5v1.5h-1.5zM324.78 488.53h1.5v1.5h-1.5zM321.32 489.09h1.5v1.5h-1.5zM324.14 482.09h1.5v1.5h-1.5zM325.76 481.34h1.5v1.5h-1.5zM323.9 476.24h1.5v1.5h-1.5zM325.73 476.51h1.5v1.5h-1.5zM322.8 487.47h1.5v1.5h-1.5zM322.78 506.66h1.5v1.5h-1.5zM323.15 521.01h1.5v1.5h-1.5z"/>
<rect x="315.5" y="478.5" width="17" height="10" fill="#e18a97" stroke="#303030" stroke-width="1"/>
<line x1="315.5" y1="481.5" x2="332.5" y2="481.5" stroke="#2a2a2a" stroke-width="1"/>
<line x1="345.7" y1="447.4" x2="345.7" y2="500" stroke="#333" stroke-width="1"/>
<path fill="#1f5b99" d="M344.83 447.5h1.5v1.5h-1.5zM345.09 499.36h1.5v1.5h-1.5zM344.69 458.01h1.5v1.5h-1.5zM345.03 467.16h1.5v1.5h-1.5zM347.01 467.45h1.5v1.5h-1.5zM342.97 467.33h1.5v1.5h-1.5zM344.74 479.95h1.5v1.5h-1.5zM346.94 479.61h1.5v1.5h-1.5zM343.15 479.52h1.5v1.5h-1.5zM345.23 492.49h1.5v1.5h-1.5zM345.2 469.2h1.5v1.5h-1.5zM346.68 469.26h1.5v1.5h-1.5zM343.12 468.94h1.5v1.5h-1.5zM348.87 469.28h1.5v1.5h-1.5zM341.26 468.8h1.5v1.5h-1.5zM345.23 491.02h1.5v1.5h-1.5zM344.91 464.03h1.5v1.5h-1.5zM346.2 481.51h1.5v1.5h-1.5zM347.61 481.42h1.5v1.5h-1.5zM343.99 481.33h1.5v1.5h-1.5zM349.54 481.86h1.5v1.5h-1.5zM344.66 478.15h1.5v1.5h-1.5zM346.79 478.24h1.5v1.5h-1.5zM342.91 478.03h1.5v1.5h-1.5zM344.78 483.01h1.5v1.5h-1.5zM347.07 483.33h1.5v1.5h-1.5zM342.93 483.84h1.5v1.5h-1.5zM345.82 461.89h1.5v1.5h-1.5zM347.58 461.77h1.5v1.5h-1.5zM345.18 460.34h1.5v1.5h-1.5zM346.09 485.62h1.5v1.5h-1.5zM347.64 484.85h1.5v1.5h-1.5zM345.68 470.99h1.5v1.5h-1.5zM347.83 470.73h1.5v1.5h-1.5zM345.08 476h1.5v1.5h-1.5zM345.01 488.78h1.5v1.5h-1.5zM344.73 474.7h1.5v1.5h-1.5zM344.76 472.92h1.5v1.5h-1.5zM347.01 472.59h1.5v1.5h-1.5zM343.02 472.38h1.5v1.5h-1.5zM344.73 451.23h1.5v1.5h-1.5zM345.82 465.51h1.5v1.5h-1.5zM347.72 465.24h1.5v1.5h-1.5zM344.75 498.09h1.5v1.5h-1.5zM344.91 454.34h1.5v1.5h-1.5z"/>
<rect x="337.5" y="469.5" width="17" height="11" fill="#87a7c8" stroke="#303030" stroke-width="1"/>
<line x1="337.5" y1="474.5" x2="354.5" y2="474.5" stroke="#2a2a2a" stroke-width="1"/>
<line x1="367.9" y1="461.6" x2="367.9" y2="495" stroke="#333" stroke-width="1"/>
<path fill="#2bb52b" d="M366.99 459.62h1.5v1.5h-1.5zM367.28 493.97h1.5v1.5h-1.5zM367.36 470.91h1.5v1.5h-1.5zM368.83 470.87h1.5v1.5h-1.5zM365.41 470.6h1.5v1.5h-1.5zM368.37 475.85h1.5v1.5h-1.5zM369.79 476.34h1.5v1.5h-1.5zM368.21 478.14h1.5v1.5h-1.5zM370.25 477.78h1.5v1.5h-1.5zM365.93 478.08h1.5v1.5h-1.5zM371.81 477.96h1.5v1.5h-1.5zM367.09 490.99h1.5v1.5h-1.5zM367.97 474.62h1.5v1.5h-1.5zM370.04 474.26h1.5v1.5h-1.5zM366.45 474.23h1.5v1.5h-1.5zM371.78 474.17h1.5v1.5h-1.5zM367.27 480.02h1.5v1.5h-1.5zM368.97 479.51h1.5v1.5h-1.5zM365.31 479.7h1.5v1.5h-1.5zM370.98 479.99h1.5v1.5h-1.5zM363.05 479.44h1.5v1.5h-1.5zM367.34 462.18h1.5v1.5h-1.5zM366.9 468.8h1.5v1.5h-1.5zM367.11 481.95h1.5v1.5h-1.5zM368.94 482.06h1.5v1.5h-1.5zM365 482.01h1.5v1.5h-1.5zM370.68 481.74h1.5v1.5h-1.5zM363.63 481.85h1.5v1.5h-1.5zM367.4 467.12h1.5v1.5h-1.5zM369.32 467.61h1.5v1.5h-1.5zM365.11 467.49h1.5v1.5h-1.5zM367.4 488.59h1.5v1.5h-1.5zM368.03 472.89h1.5v1.5h-1.5zM370.04 473.03h1.5v1.5h-1.5zM367.11 463.6h1.5v1.5h-1.5zM366.95 438.25h1.5v1.5h-1.5zM367.37 450.84h1.5v1.5h-1.5z"/>
<rect x="359.5" y="472.5" width="17" height="9" fill="#9ddba0" stroke="#303030" stroke-width="1"/>
<line x1="359.5" y1="478.5" x2="376.5" y2="478.5" stroke="#2a2a2a" stroke-width="1"/>
<line x1="389.9" y1="429" x2="389.9" y2="477" stroke="#333" stroke-width="1"/>
<path fill="#5b2c83" d="M389.04 427.52h1.5v1.5h-1.5zM389.42 476.67h1.5v1.5h-1.5zM389.45 460.42h1.5v1.5h-1.5zM391.04 460.19h1.5v1.5h-1.5zM387.49 459.99h1.5v1.5h-1.5zM389.4 438.72h1.5v1.5h-1.5zM390.92 438.32h1.5v1.5h-1.5zM387.36 438.15h1.5v1.5h-1.5zM392.8 438.17h1.5v1.5h-1.5zM385.11 438.82h1.5v1.5h-1.5zM395.15 438.74h1.5v1.5h-1.5zM383.45 438.67h1.5v1.5h-1.5zM390.21 434.8h1.5v1.5h-1.5zM392.01 434.51h1.5v1.5h-1.5zM388.05 434.71h1.5v1.5h-1.5zM393.81 434.99h1.5v1.5h-1.5zM386.14 434.61h1.5v1.5h-1.5zM396.02 435.1h1.5v1.5h-1.5zM384.66 435.1h1.5v1.5h-1.5zM397.52 434.84h1.5v1.5h-1.5zM382.7 435.13h1.5v1.5h-1.5zM399.44 434.83h1.5v1.5h-1.5zM380.65 434.41h1.5v1.5h-1.5zM401.35 435.07h1.5v1.5h-1.5zM389.25 429.4h1.5v1.5h-1.5zM391.09 429.47h1.5v1.5h-1.5zM387.16 429.08h1.5v1.5h-1.5zM389.3 458.5h1.5v1.5h-1.5zM391.01 458.49h1.5v1.5h-1.5zM387.45 458.42h1.5v1.5h-1.5zM390.28 446.07h1.5v1.5h-1.5zM391.72 446.05h1.5v1.5h-1.5zM388.17 445.9h1.5v1.5h-1.5zM394.04 445.29h1.5v1.5h-1.5zM386.35 445.28h1.5v1.5h-1.5zM395.94 445.5h1.5v1.5h-1.5zM389.08 436.45h1.5v1.5h-1.5zM391.24 436.78h1.5v1.5h-1.5zM387.13 436.87h1.5v1.5h-1.5zM392.76 436.92h1.5v1.5h-1.5zM385.41 436.89h1.5v1.5h-1.5zM394.92 437.09h1.5v1.5h-1.5zM383.57 436.62h1.5v1.5h-1.5zM396.8 436.71h1.5v1.5h-1.5zM381.42 436.48h1.5v1.5h-1.5zM398.83 436.94h1.5v1.5h-1.5zM379.93 436.82h1.5v1.5h-1.5zM400.55 436.56h1.5v1.5h-1.5zM377.87 436.78h1.5v1.5h-1.5zM402.72 436.87h1.5v1.5h-1.5zM375.78 436.45h1.5v1.5h-1.5zM389.83 449.5h1.5v1.5h-1.5zM391.96 449.15h1.5v1.5h-1.5zM387.93 449.25h1.5v1.5h-1.5zM394.14 449.05h1.5v1.5h-1.5zM386.45 449.48h1.5v1.5h-1.5zM395.9 449.34h1.5v1.5h-1.5zM384.25 449.41h1.5v1.5h-1.5zM397.75 449.67h1.5v1.5h-1.5zM382.51 449.12h1.5v1.5h-1.5zM399.84 449.36h1.5v1.5h-1.5zM389.05 440.38h1.5v1.5h-1.5zM390.84 439.97h1.5v1.5h-1.5zM387.48 440.22h1.5v1.5h-1.5zM393.13 439.99h1.5v1.5h-1.5zM385.33 440.01h1.5v1.5h-1.5zM395.03 440.34h1.5v1.5h-1.5zM383.39 440.15h1.5v1.5h-1.5zM388.98 472.39h1.5v1.5h-1.5zM389.26 432.88h1.5v1.5h-1.5zM390.81 432.95h1.5v1.5h-1.5zM387.22 433.49h1.5v1.5h-1.5zM392.88 432.96h1.5v1.5h-1.5zM385.63 433.25h1.5v1.5h-1.5zM389.13 441.96h1.5v1.5h-1.5zM390.89 441.74h1.5v1.5h-1.5zM387.23 442.18h1.5v1.5h-1.5zM392.71 442.03h1.5v1.5h-1.5zM385.15 442.14h1.5v1.5h-1.5zM389.06 453h1.5v1.5h-1.5zM391.22 452.76h1.5v1.5h-1.5zM387.18 452.47h1.5v1.5h-1.5zM388.98 451.16h1.5v1.5h-1.5zM391.23 450.72h1.5v1.5h-1.5zM387.54 451.42h1.5v1.5h-1.5zM392.87 451.09h1.5v1.5h-1.5zM385.45 450.9h1.5v1.5h-1.5zM390.02 447.65h1.5v1.5h-1.5zM391.99 447.39h1.5v1.5h-1.5zM388.24 447.1h1.5v1.5h-1.5zM393.88 447.27h1.5v1.5h-1.5zM389.9 443.87h1.5v1.5h-1.5zM392.12 443.87h1.5v1.5h-1.5zM390.1 454.8h1.5v1.5h-1.5zM391.95 455.08h1.5v1.5h-1.5zM389.93 430.81h1.5v1.5h-1.5zM392.04 431.43h1.5v1.5h-1.5zM390.03 456.36h1.5v1.5h-1.5zM391.91 456.22h1.5v1.5h-1.5zM389.33 471.18h1.5v1.5h-1.5z"/>
<rect x="381.5" y="437.5" width="17" height="12" fill="#a890bf" stroke="#303030" stroke-width="1"/>
<line x1="381.5" y1="442.5" x2="398.5" y2="442.5" stroke="#2a2a2a" stroke-width="1"/>
<line x1="411.9" y1="456.4" x2="411.9" y2="508" stroke="#333" stroke-width="1"/>
<path fill="#ff9a0a" d="M411.1 456.9h1.5v1.5h-1.5zM412.75 456.31h1.5v1.5h-1.5zM409.04 456.15h1.5v1.5h-1.5zM411.97 506.96h1.5v1.5h-1.5zM413.74 507.18h1.5v1.5h-1.5zM412.06 468.76h1.5v1.5h-1.5zM413.76 469.07h1.5v1.5h-1.5zM411.06 476.25h1.5v1.5h-1.5zM412.81 476.12h1.5v1.5h-1.5zM409.25 475.88h1.5v1.5h-1.5zM412.1 485.56h1.5v1.5h-1.5zM414.05 484.92h1.5v1.5h-1.5zM410.28 484.87h1.5v1.5h-1.5zM415.69 484.81h1.5v1.5h-1.5zM408.32 484.96h1.5v1.5h-1.5zM417.67 484.91h1.5v1.5h-1.5zM406.64 484.93h1.5v1.5h-1.5zM419.8 485.53h1.5v1.5h-1.5zM412.07 499.72h1.5v1.5h-1.5zM413.9 499.94h1.5v1.5h-1.5zM411.26 474.07h1.5v1.5h-1.5zM413.17 474.13h1.5v1.5h-1.5zM409.24 474.17h1.5v1.5h-1.5zM414.94 474.59h1.5v1.5h-1.5zM407.49 474.29h1.5v1.5h-1.5zM416.58 474.41h1.5v1.5h-1.5zM405.7 474.5h1.5v1.5h-1.5zM418.82 474.69h1.5v1.5h-1.5zM403.63 474.85h1.5v1.5h-1.5zM412.37 483.66h1.5v1.5h-1.5zM414.18 483.13h1.5v1.5h-1.5zM410.06 483.64h1.5v1.5h-1.5zM415.95 483.78h1.5v1.5h-1.5zM408.46 483.3h1.5v1.5h-1.5zM417.6 483.59h1.5v1.5h-1.5zM411.87 490.65h1.5v1.5h-1.5zM413.87 490.56h1.5v1.5h-1.5zM410.29 490.77h1.5v1.5h-1.5zM415.97 490.25h1.5v1.5h-1.5zM408.54 490.83h1.5v1.5h-1.5zM418.04 490.75h1.5v1.5h-1.5zM406.49 491h1.5v1.5h-1.5zM419.85 490.77h1.5v1.5h-1.5zM404.22 490.22h1.5v1.5h-1.5zM421.73 490.96h1.5v1.5h-1.5zM402.53 490.39h1.5v1.5h-1.5zM423.46 490.96h1.5v1.5h-1.5zM412.25 472.32h1.5v1.5h-1.5zM413.82 472.39h1.5v1.5h-1.5zM410.35 472.43h1.5v1.5h-1.5zM416.13 472.57h1.5v1.5h-1.5zM408.12 472.57h1.5v1.5h-1.5zM417.58 472.99h1.5v1.5h-1.5zM410.86 494.18h1.5v1.5h-1.5zM412.98 493.83h1.5v1.5h-1.5zM409.08 494.69h1.5v1.5h-1.5zM415.17 494.18h1.5v1.5h-1.5zM407.57 494.62h1.5v1.5h-1.5zM417.06 494.45h1.5v1.5h-1.5zM405.49 494.26h1.5v1.5h-1.5zM412.23 470.94h1.5v1.5h-1.5zM414.28 470.56h1.5v1.5h-1.5zM412.34 481.88h1.5v1.5h-1.5zM413.97 481.96h1.5v1.5h-1.5zM410.07 481.55h1.5v1.5h-1.5zM415.95 482.07h1.5v1.5h-1.5zM408.15 481.96h1.5v1.5h-1.5zM417.89 482.03h1.5v1.5h-1.5zM406.28 481.8h1.5v1.5h-1.5zM419.93 482h1.5v1.5h-1.5zM404.62 481.96h1.5v1.5h-1.5zM421.68 481.7h1.5v1.5h-1.5zM410.97 467.27h1.5v1.5h-1.5zM411.44 503.65h1.5v1.5h-1.5zM411.83 461.67h1.5v1.5h-1.5zM413.84 462.16h1.5v1.5h-1.5zM411.91 489.09h1.5v1.5h-1.5zM413.82 488.71h1.5v1.5h-1.5zM410.48 488.51h1.5v1.5h-1.5zM415.95 488.65h1.5v1.5h-1.5zM408.45 488.46h1.5v1.5h-1.5zM417.91 488.63h1.5v1.5h-1.5zM411.42 495.9h1.5v1.5h-1.5zM413.15 495.63h1.5v1.5h-1.5zM409.51 496.17h1.5v1.5h-1.5zM411.4 480.07h1.5v1.5h-1.5zM412.79 480.07h1.5v1.5h-1.5zM409.18 479.58h1.5v1.5h-1.5zM415.18 480h1.5v1.5h-1.5zM407.26 479.46h1.5v1.5h-1.5zM412.19 465.05h1.5v1.5h-1.5zM413.84 465.04h1.5v1.5h-1.5zM411.9 487.27h1.5v1.5h-1.5zM413.86 487.49h1.5v1.5h-1.5zM410.07 487.32h1.5v1.5h-1.5zM416.04 487.18h1.5v1.5h-1.5zM408.36 486.73h1.5v1.5h-1.5zM418 487.43h1.5v1.5h-1.5zM411.17 477.77h1.5v1.5h-1.5zM412.8 477.83h1.5v1.5h-1.5zM409.53 477.89h1.5v1.5h-1.5zM411.97 492.47h1.5v1.5h-1.5zM413.72 492.71h1.5v1.5h-1.5zM410.37 492.28h1.5v1.5h-1.5zM415.62 492.81h1.5v1.5h-1.5zM408.49 492.69h1.5v1.5h-1.5zM417.63 492.86h1.5v1.5h-1.5zM411.23 459.63h1.5v1.5h-1.5zM411.44 498.03h1.5v1.5h-1.5zM410.96 464h1.5v1.5h-1.5zM411.21 510.57h1.5v1.5h-1.5zM410.87 522.79h1.5v1.5h-1.5zM411.33 528.01h1.5v1.5h-1.5z"/>
<rect x="403.5" y="475.5" width="17" height="15" fill="#fdca80" stroke="#303030" stroke-width="1"/>
<line x1="403.5" y1="485.5" x2="420.5" y2="485.5" stroke="#2a2a2a" stroke-width="1"/>
<line x1="433.9" y1="456" x2="433.9" y2="487.6" stroke="#333" stroke-width="1"/>
<path fill="#1a6b5a" d="M433.01 455h1.5v1.5h-1.5zM433.35 486.77h1.5v1.5h-1.5zM433.2 479.58h1.5v1.5h-1.5zM433.84 477.8h1.5v1.5h-1.5zM435.82 477.61h1.5v1.5h-1.5zM432.87 474.73h1.5v1.5h-1.5zM435.27 474.78h1.5v1.5h-1.5zM430.99 474.02h1.5v1.5h-1.5zM434.31 465.34h1.5v1.5h-1.5zM435.91 465.63h1.5v1.5h-1.5zM433.17 458.1h1.5v1.5h-1.5zM433.89 468.7h1.5v1.5h-1.5zM436.13 469.42h1.5v1.5h-1.5zM432.87 470.6h1.5v1.5h-1.5zM435.06 470.64h1.5v1.5h-1.5zM431.24 470.85h1.5v1.5h-1.5zM433.96 466.91h1.5v1.5h-1.5zM435.95 467.53h1.5v1.5h-1.5zM431.98 467.28h1.5v1.5h-1.5zM438.09 467.31h1.5v1.5h-1.5zM434.01 473.04h1.5v1.5h-1.5zM436.17 473.1h1.5v1.5h-1.5zM432.08 472.64h1.5v1.5h-1.5zM437.87 472.96h1.5v1.5h-1.5zM433.22 461.9h1.5v1.5h-1.5zM433.16 483.8h1.5v1.5h-1.5zM434.01 459.72h1.5v1.5h-1.5zM435.81 459.82h1.5v1.5h-1.5zM432.91 476.68h1.5v1.5h-1.5zM433.18 463.92h1.5v1.5h-1.5zM433.12 497.87h1.5v1.5h-1.5z"/>
<rect x="425.5" y="468.5" width="17" height="9" fill="#7fb5a5" stroke="#303030" stroke-width="1"/>
<line x1="425.5" y1="473.5" x2="442.5" y2="473.5" stroke="#2a2a2a" stroke-width="1"/>
<line x1="456" y1="445.6" x2="456" y2="498" stroke="#333" stroke-width="1"/>
<path fill="#8a80d0" d="M455.27 445.61h1.5v1.5h-1.5zM455.11 497.74h1.5v1.5h-1.5zM456.49 467.17h1.5v1.5h-1.5zM458.28 466.91h1.5v1.5h-1.5zM456.26 461.64h1.5v1.5h-1.5zM457.94 461.67h1.5v1.5h-1.5zM455.19 496.18h1.5v1.5h-1.5zM455.19 451.38h1.5v1.5h-1.5zM455.99 478.37h1.5v1.5h-1.5zM458.06 478.31h1.5v1.5h-1.5zM456.14 465.23h1.5v1.5h-1.5zM458.34 465.57h1.5v1.5h-1.5zM456.33 472.67h1.5v1.5h-1.5zM458.23 473.06h1.5v1.5h-1.5zM456.34 482.07h1.5v1.5h-1.5zM458.01 481.47h1.5v1.5h-1.5zM454.53 481.95h1.5v1.5h-1.5zM460.23 481.59h1.5v1.5h-1.5zM452.35 482.05h1.5v1.5h-1.5zM461.72 481.35h1.5v1.5h-1.5zM450.3 481.47h1.5v1.5h-1.5zM463.75 481.54h1.5v1.5h-1.5zM455.23 468.63h1.5v1.5h-1.5zM456.11 470.86h1.5v1.5h-1.5zM457.83 470.83h1.5v1.5h-1.5zM455.49 460.19h1.5v1.5h-1.5zM456.47 476.57h1.5v1.5h-1.5zM458.1 475.82h1.5v1.5h-1.5zM454.99 483.52h1.5v1.5h-1.5zM457.36 483.3h1.5v1.5h-1.5zM453.13 483.68h1.5v1.5h-1.5zM455.27 479.82h1.5v1.5h-1.5zM455.03 452.9h1.5v1.5h-1.5zM455.29 474.64h1.5v1.5h-1.5zM455.49 463.27h1.5v1.5h-1.5zM455.45 512.09h1.5v1.5h-1.5z"/>
<rect x="447.5" y="469.5" width="17" height="12" fill="#c8c3e6" stroke="#303030" stroke-width="1"/>
<line x1="447.5" y1="475.5" x2="464.5" y2="475.5" stroke="#2a2a2a" stroke-width="1"/>
<line x1="478" y1="428" x2="478" y2="472" stroke="#333" stroke-width="1"/>
<path fill="#3a4658" d="M478.46 427.62h1.5v1.5h-1.5zM480.05 428.06h1.5v1.5h-1.5zM478.42 471.23h1.5v1.5h-1.5zM480.22 470.6h1.5v1.5h-1.5zM476.98 465.02h1.5v1.5h-1.5zM478.45 451.09h1.5v1.5h-1.5zM480.33 451.46h1.5v1.5h-1.5zM476.14 451.47h1.5v1.5h-1.5zM481.86 450.76h1.5v1.5h-1.5zM477.11 440.7h1.5v1.5h-1.5zM479.41 440.12h1.5v1.5h-1.5zM475.34 440.54h1.5v1.5h-1.5zM478.38 447.81h1.5v1.5h-1.5zM480.02 447.21h1.5v1.5h-1.5zM476.31 447.84h1.5v1.5h-1.5zM482.07 447.78h1.5v1.5h-1.5zM478.02 452.86h1.5v1.5h-1.5zM480.35 452.91h1.5v1.5h-1.5zM478.38 456.73h1.5v1.5h-1.5zM480.07 456.62h1.5v1.5h-1.5zM478.32 434.8h1.5v1.5h-1.5zM480.11 435.13h1.5v1.5h-1.5zM476.53 435.29h1.5v1.5h-1.5zM481.92 435.01h1.5v1.5h-1.5zM478.23 431.57h1.5v1.5h-1.5zM479.94 431.22h1.5v1.5h-1.5zM478.05 454.92h1.5v1.5h-1.5zM480.23 454.21h1.5v1.5h-1.5zM476.07 454.33h1.5v1.5h-1.5zM482.05 454.9h1.5v1.5h-1.5zM477.16 441.67h1.5v1.5h-1.5zM479.2 442.15h1.5v1.5h-1.5zM475.31 441.84h1.5v1.5h-1.5zM478.11 449.01h1.5v1.5h-1.5zM480.29 449.14h1.5v1.5h-1.5zM476.43 449.29h1.5v1.5h-1.5zM481.84 449.05h1.5v1.5h-1.5zM477.35 460.38h1.5v1.5h-1.5zM477.5 445.34h1.5v1.5h-1.5zM477.11 438.09h1.5v1.5h-1.5zM477.06 490.55h1.5v1.5h-1.5z"/>
<rect x="469.5" y="442.5" width="17" height="12" fill="#a0a4a8" stroke="#303030" stroke-width="1"/>
<line x1="469.5" y1="448.5" x2="486.5" y2="448.5" stroke="#2a2a2a" stroke-width="1"/>
<line x1="500" y1="447" x2="500" y2="491.6" stroke="#333" stroke-width="1"/>
<path fill="#2aaae6" d="M499.43 445.36h1.5v1.5h-1.5zM499.95 491.08h1.5v1.5h-1.5zM502.27 490.26h1.5v1.5h-1.5zM498.11 490.79h1.5v1.5h-1.5zM503.8 490.59h1.5v1.5h-1.5zM499.99 483.08h1.5v1.5h-1.5zM502.09 483.49h1.5v1.5h-1.5zM498.51 483h1.5v1.5h-1.5zM503.91 483.06h1.5v1.5h-1.5zM496.43 483.15h1.5v1.5h-1.5zM505.8 483.87h1.5v1.5h-1.5zM494.59 483.6h1.5v1.5h-1.5zM507.86 483.18h1.5v1.5h-1.5zM492.71 483.87h1.5v1.5h-1.5zM509.45 483.76h1.5v1.5h-1.5zM500.11 481.38h1.5v1.5h-1.5zM502.19 481.97h1.5v1.5h-1.5zM499.05 486.78h1.5v1.5h-1.5zM501.15 486.78h1.5v1.5h-1.5zM497.35 487.49h1.5v1.5h-1.5zM499.92 477.98h1.5v1.5h-1.5zM501.92 477.75h1.5v1.5h-1.5zM500.25 476.65h1.5v1.5h-1.5zM502.08 476.3h1.5v1.5h-1.5zM499.37 474.77h1.5v1.5h-1.5zM499.53 465.3h1.5v1.5h-1.5zM499.06 467.62h1.5v1.5h-1.5zM499.31 489.19h1.5v1.5h-1.5zM499.99 471.11h1.5v1.5h-1.5zM501.87 470.52h1.5v1.5h-1.5zM499.97 468.93h1.5v1.5h-1.5zM502.05 469.19h1.5v1.5h-1.5zM498.56 468.99h1.5v1.5h-1.5zM504.05 468.97h1.5v1.5h-1.5zM499.18 485.04h1.5v1.5h-1.5z"/>
<rect x="491.5" y="471.5" width="17" height="13" fill="#95d8f2" stroke="#303030" stroke-width="1"/>
<line x1="491.5" y1="478.5" x2="508.5" y2="478.5" stroke="#2a2a2a" stroke-width="1"/>
<path d="M310.4 409.4 V535.1 H513.5" fill="none" stroke="#333" stroke-width="1.5"/>
<line x1="307.4" y1="431" x2="310.4" y2="431" stroke="#333" stroke-width="1.1"/>
<text x="304.9" y="433.4" text-anchor="end" class="t">10000</text>
<line x1="307.4" y1="457.4" x2="310.4" y2="457.4" stroke="#333" stroke-width="1.1"/>
<text x="304.9" y="459.8" text-anchor="end" class="t">1000</text>
<line x1="307.4" y1="483.6" x2="310.4" y2="483.6" stroke="#333" stroke-width="1.1"/>
<text x="304.9" y="486" text-anchor="end" class="t">100</text>
<line x1="307.4" y1="510" x2="310.4" y2="510" stroke="#333" stroke-width="1.1"/>
<text x="304.9" y="512.4" text-anchor="end" class="t">10</text>
<line x1="323.6" y1="535.1" x2="323.6" y2="538.1" stroke="#333" stroke-width="1.1"/>
<line x1="345.6" y1="535.1" x2="345.6" y2="538.1" stroke="#333" stroke-width="1.1"/>
<line x1="367.6" y1="535.1" x2="367.6" y2="538.1" stroke="#333" stroke-width="1.1"/>
<line x1="389.8" y1="535.1" x2="389.8" y2="538.1" stroke="#333" stroke-width="1.1"/>
<line x1="412" y1="535.1" x2="412" y2="538.1" stroke="#333" stroke-width="1.1"/>
<line x1="434" y1="535.1" x2="434" y2="538.1" stroke="#333" stroke-width="1.1"/>
<line x1="456" y1="535.1" x2="456" y2="538.1" stroke="#333" stroke-width="1.1"/>
<line x1="478" y1="535.1" x2="478" y2="538.1" stroke="#333" stroke-width="1.1"/>
<line x1="500" y1="535.1" x2="500" y2="538.1" stroke="#333" stroke-width="1.1"/>
<text transform="translate(325.9,543.4) rotate(-45)" text-anchor="end" class="x">BL</text>
<text transform="translate(347.9,543.4) rotate(-45)" text-anchor="end" class="x">CD10<tspan dx="0.3" dy="-2.7" font-size="5.6">–</tspan><tspan dy="2.9"> DLBCL</tspan></text>
<text transform="translate(370.1,543.4) rotate(-45)" text-anchor="end" class="x">CD10<tspan dx="0.3" dy="-2.7" font-size="5.6">+</tspan><tspan dy="2.9"> DLBCL</tspan></text>
<text transform="translate(392.1,543.4) rotate(-45)" text-anchor="end" class="x">CLL</text>
<text transform="translate(414.1,543.4) rotate(-45)" text-anchor="end" class="x">FL</text>
<text transform="translate(436.1,543.4) rotate(-45)" text-anchor="end" class="x">HCL</text>
<text transform="translate(458.2,543.4) rotate(-45)" text-anchor="end" class="x">LPL</text>
<text transform="translate(480.2,543.4) rotate(-45)" text-anchor="end" class="x">MCL</text>
<text transform="translate(502.2,543.4) rotate(-45)" text-anchor="end" class="x">MZL</text>
<text x="323.7" y="411.4" text-anchor="middle" class="n">89</text>
<text x="345.7" y="411.4" text-anchor="middle" class="n">220</text>
<circle cx="345.7" cy="415.9" r="1.05" fill="#2a2a2a"/>
<text x="367.9" y="411.4" text-anchor="middle" class="n">153</text>
<text x="389.9" y="411.4" text-anchor="middle" class="n">3685</text>
<circle cx="387.3" cy="415.9" r="1.05" fill="#2a2a2a"/>
<circle cx="389.9" cy="415.9" r="1.05" fill="#2a2a2a"/>
<circle cx="392.5" cy="415.9" r="1.05" fill="#2a2a2a"/>
<text x="411.9" y="411.4" text-anchor="middle" class="n">80</text>
<text x="411.9" y="419.7" text-anchor="middle" class="h" stroke="#333" stroke-width="0.5">#</text>
<text x="433.9" y="411.4" text-anchor="middle" class="n">240</text>
<text x="456" y="411.4" text-anchor="middle" class="n">177</text>
<text x="478" y="411.4" text-anchor="middle" class="n">2285</text>
<circle cx="475.4" cy="415.9" r="1.05" fill="#2a2a2a"/>
<circle cx="478" cy="415.9" r="1.05" fill="#2a2a2a"/>
<circle cx="480.6" cy="415.9" r="1.05" fill="#2a2a2a"/>
<text x="500" y="411.4" text-anchor="middle" class="n">159</text>
<text x="505" y="530.5" text-anchor="end" class="l">CD5</text>
<rect x="0" y="0" width="520" height="1" fill="#000"/><rect x="0" y="583" width="520" height="1" fill="#000"/><rect x="0" y="0" width="1" height="584" fill="#000"/><rect x="519" y="0" width="1" height="584" fill="#000"/>
</svg>
</body></html>
